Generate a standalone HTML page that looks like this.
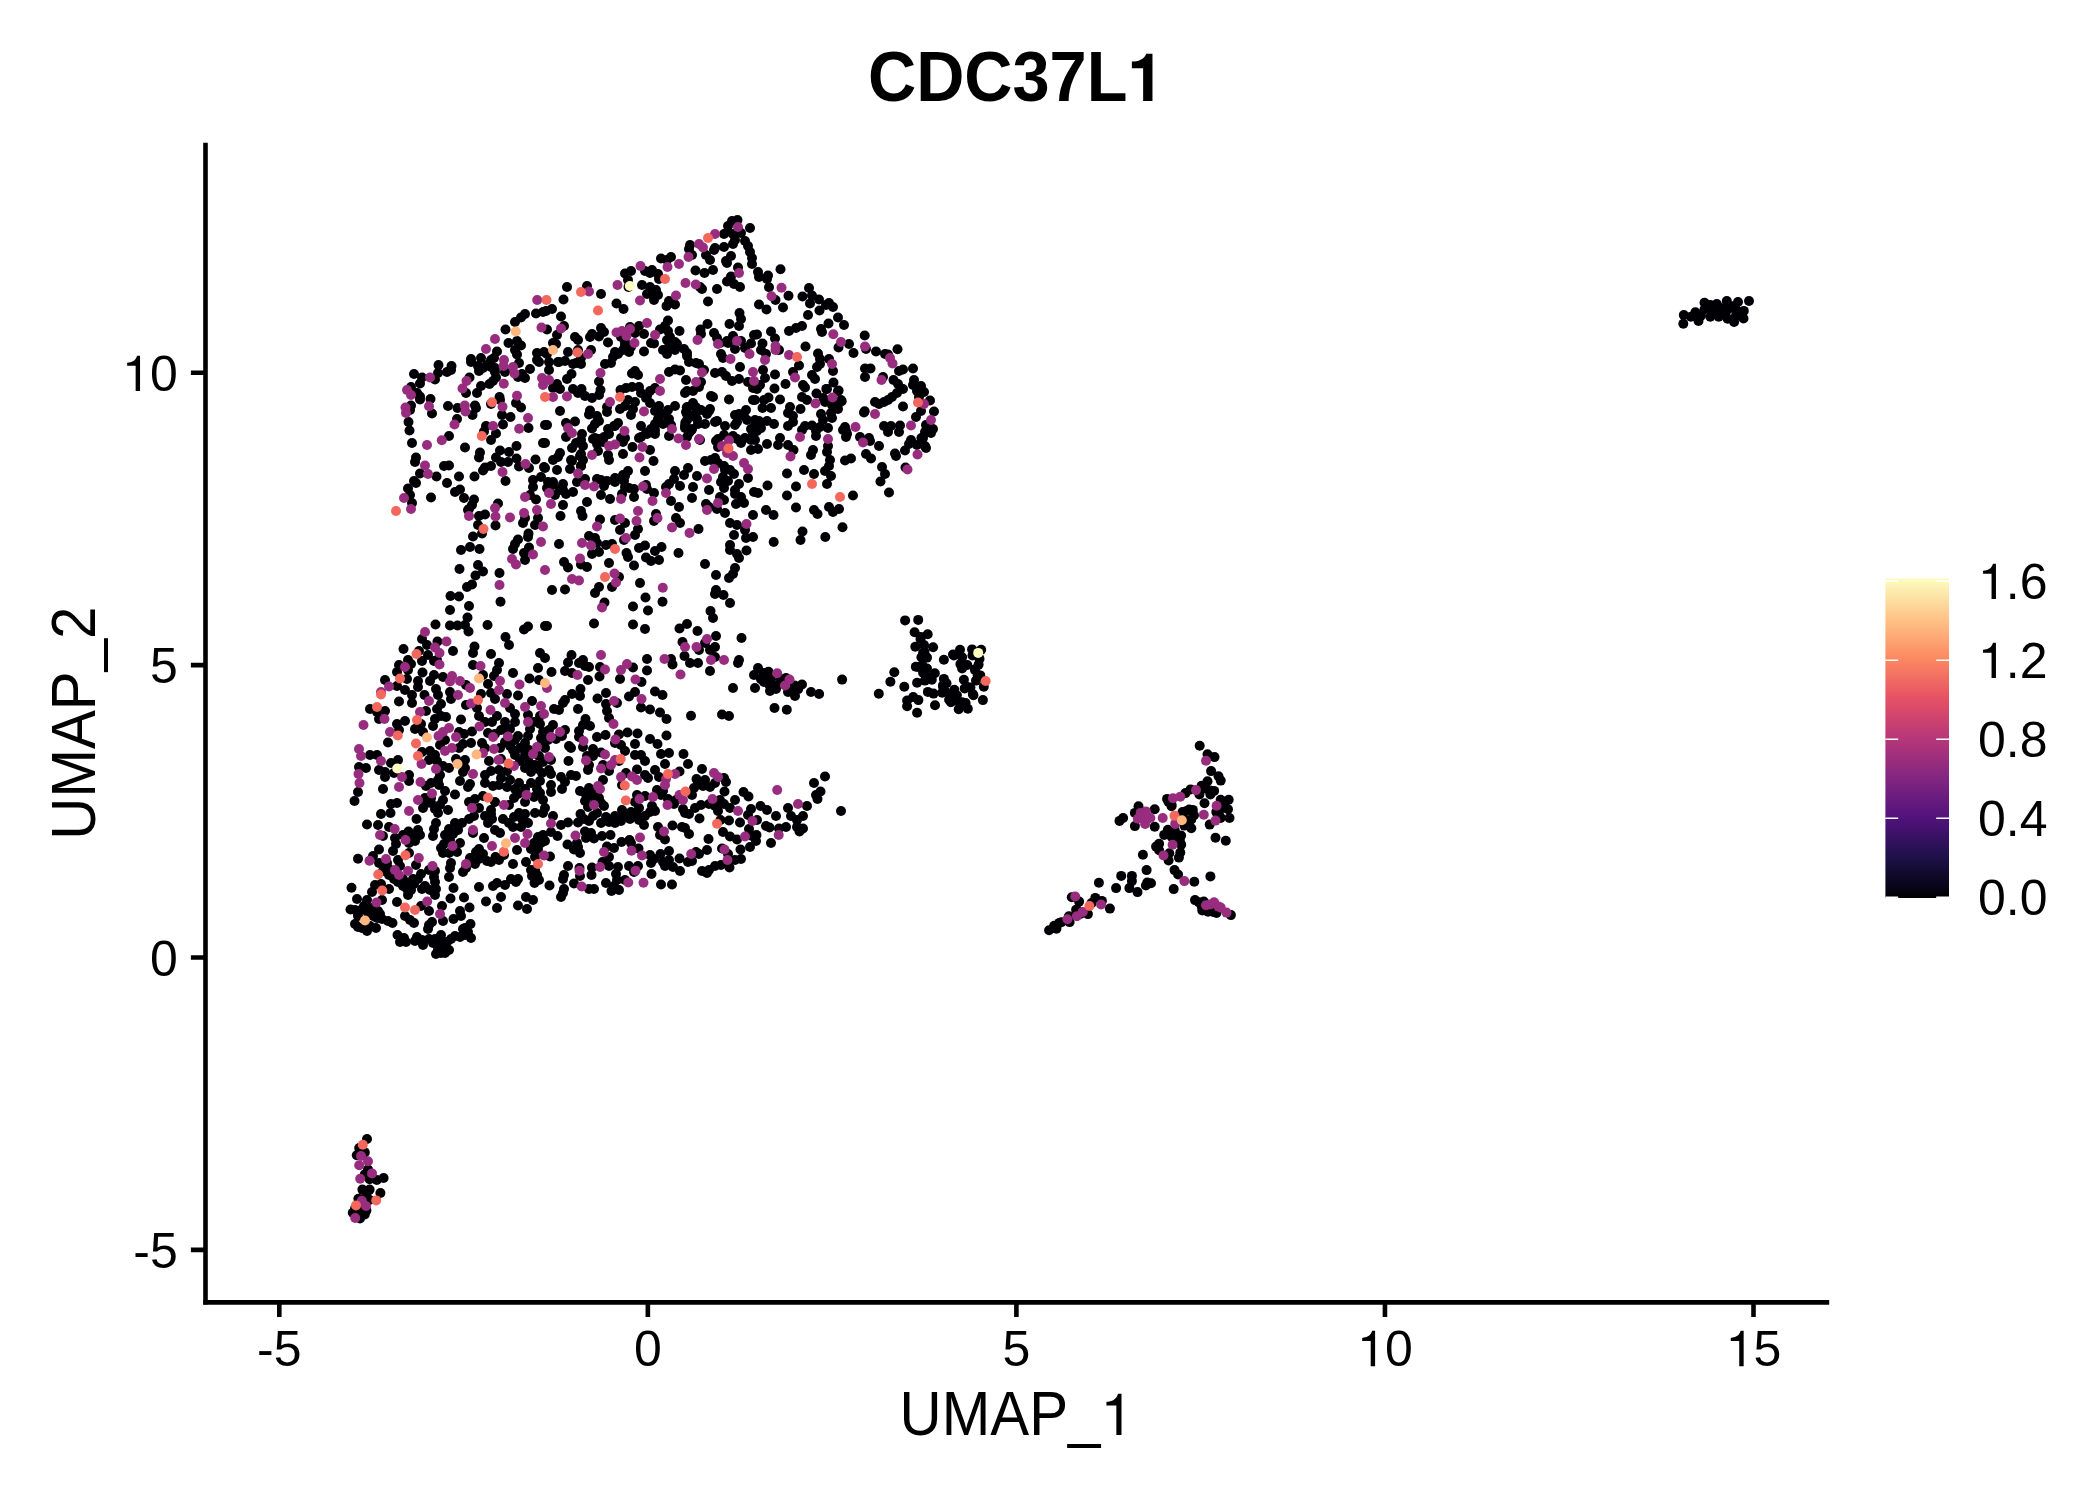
<!DOCTYPE html>
<html><head><meta charset="utf-8"><title>CDC37L1</title>
<style>
html,body{margin:0;padding:0;background:#fff;}
body{width:2100px;height:1500px;overflow:hidden;position:relative;font-family:"Liberation Sans",sans-serif;color:#000;}
svg{position:absolute;left:0;top:0;}
text{font-family:"Liberation Sans",sans-serif;fill:#000;}
.tk{font-size:50px;}
.ax{font-size:58.3px;}
.ttl{font-size:66.7px;font-weight:bold;}
</style></head><body>
<svg width="2100" height="1500" viewBox="0 0 2100 1500">
<defs>
<linearGradient id="mg" x1="0" y1="1" x2="0" y2="0">
<stop offset="0" stop-color="#000004"/>
<stop offset="0.125" stop-color="#1d1147"/>
<stop offset="0.25" stop-color="#51127c"/>
<stop offset="0.375" stop-color="#822681"/>
<stop offset="0.5" stop-color="#b73779"/>
<stop offset="0.625" stop-color="#e65164"/>
<stop offset="0.75" stop-color="#fc8961"/>
<stop offset="0.875" stop-color="#fec488"/>
<stop offset="1" stop-color="#fcfdbf"/>
</linearGradient>
</defs>
<rect width="2100" height="1500" fill="#fff"/>
<!-- points -->
<g id="pts">
<g fill="#000004">
<circle cx="1749.0" cy="301.0" r="5"/>
<circle cx="1738.0" cy="302.0" r="5"/>
<circle cx="1726.8" cy="301.0" r="5"/>
<circle cx="1716.8" cy="304.1" r="5"/>
<circle cx="1704.5" cy="302.8" r="5"/>
<circle cx="1695.4" cy="312.2" r="5"/>
<circle cx="1683.8" cy="315.1" r="5"/>
<circle cx="1683.3" cy="323.7" r="5"/>
<circle cx="1690.9" cy="316.7" r="5"/>
<circle cx="1698.5" cy="320.9" r="5"/>
<circle cx="1710.3" cy="316.7" r="5"/>
<circle cx="1718.7" cy="316.7" r="5"/>
<circle cx="1727.6" cy="318.8" r="5"/>
<circle cx="1734.1" cy="321.9" r="5"/>
<circle cx="1743.5" cy="318.5" r="5"/>
<circle cx="1743.8" cy="310.9" r="5"/>
<circle cx="1704.5" cy="309.3" r="5"/>
<circle cx="1712.4" cy="310.4" r="5"/>
<circle cx="1720.2" cy="309.3" r="5"/>
<circle cx="1728.1" cy="309.3" r="5"/>
<circle cx="1736.0" cy="309.3" r="5"/>
<circle cx="1736.0" cy="315.6" r="5"/>
<circle cx="1700.9" cy="315.6" r="5"/>
<circle cx="1725.5" cy="313.5" r="5"/>
<circle cx="1717.6" cy="306.2" r="5"/>
<circle cx="1710.3" cy="305.1" r="5"/>
<circle cx="1732.3" cy="306.2" r="5"/>
<circle cx="1739.6" cy="313.5" r="5"/>
<circle cx="1725.5" cy="307.2" r="5"/>
<circle cx="367.0" cy="1139.0" r="5"/>
<circle cx="359.2" cy="1148.0" r="5"/>
<circle cx="364.8" cy="1152.4" r="5"/>
<circle cx="356.8" cy="1155.2" r="5"/>
<circle cx="368.0" cy="1169.6" r="5"/>
<circle cx="364.8" cy="1174.4" r="5"/>
<circle cx="369.6" cy="1179.2" r="5"/>
<circle cx="376.8" cy="1180.0" r="5"/>
<circle cx="383.6" cy="1178.0" r="5"/>
<circle cx="362.4" cy="1189.6" r="5"/>
<circle cx="369.6" cy="1189.6" r="5"/>
<circle cx="366.4" cy="1194.4" r="5"/>
<circle cx="380.4" cy="1193.0" r="5"/>
<circle cx="358.4" cy="1198.8" r="5"/>
<circle cx="369.6" cy="1200.0" r="5"/>
<circle cx="352.8" cy="1212.8" r="5"/>
<circle cx="364.8" cy="1214.4" r="5"/>
<circle cx="360.0" cy="1218.4" r="5"/>
<circle cx="366.4" cy="1210.4" r="5"/>
<circle cx="355.2" cy="1208.0" r="5"/>
<circle cx="842.1" cy="679.6" r="5"/>
<circle cx="819.1" cy="694.0" r="5"/>
<circle cx="878.8" cy="693.8" r="5"/>
<circle cx="890.4" cy="681.7" r="5"/>
<circle cx="894.3" cy="672.2" r="5"/>
<circle cx="904.3" cy="686.7" r="5"/>
<circle cx="905.1" cy="620.4" r="5"/>
<circle cx="918.2" cy="619.9" r="5"/>
<circle cx="914.6" cy="632.2" r="5"/>
<circle cx="927.7" cy="634.2" r="5"/>
<circle cx="920.5" cy="639.0" r="5"/>
<circle cx="915.3" cy="646.8" r="5"/>
<circle cx="924.0" cy="645.1" r="5"/>
<circle cx="933.1" cy="647.2" r="5"/>
<circle cx="923.1" cy="652.9" r="5"/>
<circle cx="927.0" cy="657.6" r="5"/>
<circle cx="921.4" cy="657.2" r="5"/>
<circle cx="915.8" cy="666.7" r="5"/>
<circle cx="922.3" cy="665.0" r="5"/>
<circle cx="927.0" cy="668.5" r="5"/>
<circle cx="923.1" cy="672.8" r="5"/>
<circle cx="934.8" cy="673.2" r="5"/>
<circle cx="931.8" cy="679.7" r="5"/>
<circle cx="924.9" cy="680.6" r="5"/>
<circle cx="917.1" cy="682.8" r="5"/>
<circle cx="943.9" cy="659.8" r="5"/>
<circle cx="943.9" cy="678.9" r="5"/>
<circle cx="946.5" cy="683.2" r="5"/>
<circle cx="943.1" cy="686.7" r="5"/>
<circle cx="942.2" cy="692.7" r="5"/>
<circle cx="927.9" cy="691.9" r="5"/>
<circle cx="933.5" cy="693.6" r="5"/>
<circle cx="913.2" cy="697.1" r="5"/>
<circle cx="918.4" cy="700.1" r="5"/>
<circle cx="907.1" cy="700.5" r="5"/>
<circle cx="907.1" cy="706.2" r="5"/>
<circle cx="917.1" cy="712.7" r="5"/>
<circle cx="935.0" cy="705.3" r="5"/>
<circle cx="953.9" cy="655.5" r="5"/>
<circle cx="960.0" cy="649.8" r="5"/>
<circle cx="962.1" cy="657.2" r="5"/>
<circle cx="960.4" cy="664.1" r="5"/>
<circle cx="962.1" cy="668.5" r="5"/>
<circle cx="967.3" cy="665.0" r="5"/>
<circle cx="972.1" cy="649.4" r="5"/>
<circle cx="981.2" cy="649.8" r="5"/>
<circle cx="972.5" cy="655.5" r="5"/>
<circle cx="979.5" cy="658.9" r="5"/>
<circle cx="978.6" cy="664.6" r="5"/>
<circle cx="975.1" cy="670.2" r="5"/>
<circle cx="980.3" cy="675.4" r="5"/>
<circle cx="976.0" cy="680.6" r="5"/>
<circle cx="963.9" cy="679.7" r="5"/>
<circle cx="964.7" cy="688.4" r="5"/>
<circle cx="970.4" cy="687.5" r="5"/>
<circle cx="983.8" cy="686.7" r="5"/>
<circle cx="954.3" cy="689.7" r="5"/>
<circle cx="951.7" cy="695.3" r="5"/>
<circle cx="949.1" cy="699.7" r="5"/>
<circle cx="955.2" cy="700.5" r="5"/>
<circle cx="962.1" cy="702.3" r="5"/>
<circle cx="973.4" cy="695.3" r="5"/>
<circle cx="982.9" cy="700.1" r="5"/>
<circle cx="950.9" cy="702.3" r="5"/>
<circle cx="958.7" cy="709.2" r="5"/>
<circle cx="967.8" cy="708.8" r="5"/>
<circle cx="965.6" cy="703.1" r="5"/>
<circle cx="956.9" cy="695.3" r="5"/>
<circle cx="1199.7" cy="745.7" r="5"/>
<circle cx="1207.5" cy="754.2" r="5"/>
<circle cx="1214.5" cy="757.1" r="5"/>
<circle cx="1211.1" cy="771.1" r="5"/>
<circle cx="1218.5" cy="776.2" r="5"/>
<circle cx="1220.7" cy="780.6" r="5"/>
<circle cx="1207.5" cy="781.3" r="5"/>
<circle cx="1201.6" cy="785.7" r="5"/>
<circle cx="1190.6" cy="789.4" r="5"/>
<circle cx="1185.5" cy="793.1" r="5"/>
<circle cx="1206.0" cy="788.7" r="5"/>
<circle cx="1214.1" cy="790.9" r="5"/>
<circle cx="1199.4" cy="794.5" r="5"/>
<circle cx="1210.4" cy="794.5" r="5"/>
<circle cx="1220.7" cy="799.7" r="5"/>
<circle cx="1228.7" cy="799.7" r="5"/>
<circle cx="1204.5" cy="803.3" r="5"/>
<circle cx="1228.0" cy="809.2" r="5"/>
<circle cx="1229.5" cy="818.0" r="5"/>
<circle cx="1220.7" cy="818.0" r="5"/>
<circle cx="1216.3" cy="812.1" r="5"/>
<circle cx="1209.7" cy="824.6" r="5"/>
<circle cx="1215.5" cy="837.8" r="5"/>
<circle cx="1225.8" cy="840.7" r="5"/>
<circle cx="1167.1" cy="798.9" r="5"/>
<circle cx="1171.5" cy="806.3" r="5"/>
<circle cx="1182.5" cy="812.1" r="5"/>
<circle cx="1192.8" cy="809.9" r="5"/>
<circle cx="1191.3" cy="819.5" r="5"/>
<circle cx="1185.5" cy="823.9" r="5"/>
<circle cx="1191.3" cy="828.3" r="5"/>
<circle cx="1182.5" cy="818.0" r="5"/>
<circle cx="1138.5" cy="806.3" r="5"/>
<circle cx="1134.9" cy="812.9" r="5"/>
<circle cx="1154.7" cy="809.2" r="5"/>
<circle cx="1154.7" cy="826.8" r="5"/>
<circle cx="1134.9" cy="826.1" r="5"/>
<circle cx="1123.1" cy="818.0" r="5"/>
<circle cx="1119.5" cy="820.9" r="5"/>
<circle cx="1167.9" cy="829.7" r="5"/>
<circle cx="1164.2" cy="834.9" r="5"/>
<circle cx="1172.3" cy="834.9" r="5"/>
<circle cx="1181.1" cy="835.6" r="5"/>
<circle cx="1180.3" cy="842.9" r="5"/>
<circle cx="1159.1" cy="843.7" r="5"/>
<circle cx="1156.1" cy="846.6" r="5"/>
<circle cx="1159.1" cy="850.3" r="5"/>
<circle cx="1180.3" cy="852.5" r="5"/>
<circle cx="1169.3" cy="853.2" r="5"/>
<circle cx="1178.9" cy="857.6" r="5"/>
<circle cx="1168.6" cy="860.5" r="5"/>
<circle cx="1142.9" cy="854.7" r="5"/>
<circle cx="1146.6" cy="870.1" r="5"/>
<circle cx="1174.5" cy="870.1" r="5"/>
<circle cx="1178.1" cy="874.5" r="5"/>
<circle cx="1194.3" cy="881.8" r="5"/>
<circle cx="1210.4" cy="876.4" r="5"/>
<circle cx="1173.7" cy="889.1" r="5"/>
<circle cx="1121.2" cy="875.9" r="5"/>
<circle cx="1131.9" cy="875.9" r="5"/>
<circle cx="1131.9" cy="881.1" r="5"/>
<circle cx="1098.9" cy="882.8" r="5"/>
<circle cx="1116.1" cy="888.1" r="5"/>
<circle cx="1129.4" cy="888.1" r="5"/>
<circle cx="1137.5" cy="892.1" r="5"/>
<circle cx="1147.3" cy="882.5" r="5"/>
<circle cx="1151.0" cy="883.3" r="5"/>
<circle cx="1145.9" cy="885.5" r="5"/>
<circle cx="1071.8" cy="897.2" r="5"/>
<circle cx="1079.1" cy="901.6" r="5"/>
<circle cx="1095.3" cy="897.9" r="5"/>
<circle cx="1101.9" cy="900.9" r="5"/>
<circle cx="1109.9" cy="908.6" r="5"/>
<circle cx="1076.9" cy="909.7" r="5"/>
<circle cx="1087.9" cy="914.1" r="5"/>
<circle cx="1068.9" cy="916.3" r="5"/>
<circle cx="1059.3" cy="922.9" r="5"/>
<circle cx="1054.2" cy="925.8" r="5"/>
<circle cx="1049.1" cy="930.2" r="5"/>
<circle cx="1056.4" cy="928.7" r="5"/>
<circle cx="1069.6" cy="922.1" r="5"/>
<circle cx="1091.6" cy="903.1" r="5"/>
<circle cx="1195.0" cy="900.1" r="5"/>
<circle cx="1198.7" cy="902.3" r="5"/>
<circle cx="1203.8" cy="901.6" r="5"/>
<circle cx="1202.3" cy="910.4" r="5"/>
<circle cx="1213.3" cy="911.9" r="5"/>
<circle cx="1230.9" cy="915.1" r="5"/>
<circle cx="1214.8" cy="910.4" r="5"/>
<circle cx="732.0" cy="221.0" r="5"/>
<circle cx="737.5" cy="220.0" r="5"/>
<circle cx="728.0" cy="226.0" r="5"/>
<circle cx="728.0" cy="231.5" r="5"/>
<circle cx="750.0" cy="228.0" r="5"/>
<circle cx="733.0" cy="234.0" r="5"/>
<circle cx="741.0" cy="233.0" r="5"/>
<circle cx="724.0" cy="234.0" r="5"/>
<circle cx="735.0" cy="240.0" r="5"/>
<circle cx="733.0" cy="244.0" r="5"/>
<circle cx="745.0" cy="241.0" r="5"/>
<circle cx="748.0" cy="246.0" r="5"/>
<circle cx="750.0" cy="252.0" r="5"/>
<circle cx="752.0" cy="258.0" r="5"/>
<circle cx="752.0" cy="264.0" r="5"/>
<circle cx="724.0" cy="247.0" r="5"/>
<circle cx="715.0" cy="248.0" r="5"/>
<circle cx="714.0" cy="250.0" r="5"/>
<circle cx="690.0" cy="245.0" r="5"/>
<circle cx="689.0" cy="249.0" r="5"/>
<circle cx="731.0" cy="256.0" r="5"/>
<circle cx="726.0" cy="261.0" r="5"/>
<circle cx="727.0" cy="263.0" r="5"/>
<circle cx="706.0" cy="255.0" r="5"/>
<circle cx="710.0" cy="260.0" r="5"/>
<circle cx="692.0" cy="255.0" r="5"/>
<circle cx="661.0" cy="258.5" r="5"/>
<circle cx="671.0" cy="257.0" r="5"/>
<circle cx="667.0" cy="260.0" r="5"/>
<circle cx="695.5" cy="270.5" r="5"/>
<circle cx="704.5" cy="273.0" r="5"/>
<circle cx="713.0" cy="270.0" r="5"/>
<circle cx="738.0" cy="267.5" r="5"/>
<circle cx="731.0" cy="276.5" r="5"/>
<circle cx="727.0" cy="281.5" r="5"/>
<circle cx="734.0" cy="284.0" r="5"/>
<circle cx="740.0" cy="287.0" r="5"/>
<circle cx="717.0" cy="289.0" r="5"/>
<circle cx="702.0" cy="289.0" r="5"/>
<circle cx="700.0" cy="287.0" r="5"/>
<circle cx="625.0" cy="273.5" r="5"/>
<circle cx="631.0" cy="271.0" r="5"/>
<circle cx="628.0" cy="280.0" r="5"/>
<circle cx="628.5" cy="287.0" r="5"/>
<circle cx="645.0" cy="271.0" r="5"/>
<circle cx="652.0" cy="270.0" r="5"/>
<circle cx="650.0" cy="273.0" r="5"/>
<circle cx="658.0" cy="274.0" r="5"/>
<circle cx="659.0" cy="279.0" r="5"/>
<circle cx="642.0" cy="285.0" r="5"/>
<circle cx="650.0" cy="287.0" r="5"/>
<circle cx="656.0" cy="290.0" r="5"/>
<circle cx="647.0" cy="294.0" r="5"/>
<circle cx="654.0" cy="297.0" r="5"/>
<circle cx="658.0" cy="295.0" r="5"/>
<circle cx="654.0" cy="300.0" r="5"/>
<circle cx="651.0" cy="292.0" r="5"/>
<circle cx="669.0" cy="301.0" r="5"/>
<circle cx="666.5" cy="306.0" r="5"/>
<circle cx="675.0" cy="304.5" r="5"/>
<circle cx="708.0" cy="301.5" r="5"/>
<circle cx="616.5" cy="303.5" r="5"/>
<circle cx="623.5" cy="309.0" r="5"/>
<circle cx="567.0" cy="287.0" r="5"/>
<circle cx="587.0" cy="286.0" r="5"/>
<circle cx="601.0" cy="294.0" r="5"/>
<circle cx="563.5" cy="299.5" r="5"/>
<circle cx="552.0" cy="309.0" r="5"/>
<circle cx="546.0" cy="311.0" r="5"/>
<circle cx="561.0" cy="316.5" r="5"/>
<circle cx="739.5" cy="313.0" r="5"/>
<circle cx="741.0" cy="319.0" r="5"/>
<circle cx="739.0" cy="326.0" r="5"/>
<circle cx="729.5" cy="324.0" r="5"/>
<circle cx="668.0" cy="320.5" r="5"/>
<circle cx="665.0" cy="326.0" r="5"/>
<circle cx="660.0" cy="329.5" r="5"/>
<circle cx="668.0" cy="331.0" r="5"/>
<circle cx="679.5" cy="331.0" r="5"/>
<circle cx="670.0" cy="337.0" r="5"/>
<circle cx="667.0" cy="340.0" r="5"/>
<circle cx="654.0" cy="343.5" r="5"/>
<circle cx="651.0" cy="343.0" r="5"/>
<circle cx="677.0" cy="344.0" r="5"/>
<circle cx="668.0" cy="348.0" r="5"/>
<circle cx="667.0" cy="354.0" r="5"/>
<circle cx="684.0" cy="349.0" r="5"/>
<circle cx="687.0" cy="353.0" r="5"/>
<circle cx="675.0" cy="350.0" r="5"/>
<circle cx="707.5" cy="324.0" r="5"/>
<circle cx="700.5" cy="329.5" r="5"/>
<circle cx="701.0" cy="334.0" r="5"/>
<circle cx="714.0" cy="333.0" r="5"/>
<circle cx="717.0" cy="338.0" r="5"/>
<circle cx="720.0" cy="343.0" r="5"/>
<circle cx="733.0" cy="336.0" r="5"/>
<circle cx="727.0" cy="341.0" r="5"/>
<circle cx="741.0" cy="341.0" r="5"/>
<circle cx="735.0" cy="349.0" r="5"/>
<circle cx="751.0" cy="343.5" r="5"/>
<circle cx="754.0" cy="335.0" r="5"/>
<circle cx="721.0" cy="354.0" r="5"/>
<circle cx="728.0" cy="343.0" r="5"/>
<circle cx="723.0" cy="358.0" r="5"/>
<circle cx="601.0" cy="328.0" r="5"/>
<circle cx="604.0" cy="332.0" r="5"/>
<circle cx="592.0" cy="334.0" r="5"/>
<circle cx="590.0" cy="337.0" r="5"/>
<circle cx="599.0" cy="336.5" r="5"/>
<circle cx="608.0" cy="342.5" r="5"/>
<circle cx="630.0" cy="327.0" r="5"/>
<circle cx="639.0" cy="326.0" r="5"/>
<circle cx="635.0" cy="333.0" r="5"/>
<circle cx="644.0" cy="334.0" r="5"/>
<circle cx="621.0" cy="337.0" r="5"/>
<circle cx="625.0" cy="345.0" r="5"/>
<circle cx="623.0" cy="350.0" r="5"/>
<circle cx="629.0" cy="352.0" r="5"/>
<circle cx="618.0" cy="354.0" r="5"/>
<circle cx="613.0" cy="357.0" r="5"/>
<circle cx="644.0" cy="351.5" r="5"/>
<circle cx="631.0" cy="347.0" r="5"/>
<circle cx="575.0" cy="337.0" r="5"/>
<circle cx="578.0" cy="340.0" r="5"/>
<circle cx="564.0" cy="326.0" r="5"/>
<circle cx="557.0" cy="335.0" r="5"/>
<circle cx="556.0" cy="344.0" r="5"/>
<circle cx="547.0" cy="329.5" r="5"/>
<circle cx="568.0" cy="352.0" r="5"/>
<circle cx="578.0" cy="350.0" r="5"/>
<circle cx="591.0" cy="350.0" r="5"/>
<circle cx="553.0" cy="343.0" r="5"/>
<circle cx="758.0" cy="272.0" r="5"/>
<circle cx="759.0" cy="277.0" r="5"/>
<circle cx="768.0" cy="275.5" r="5"/>
<circle cx="767.0" cy="279.0" r="5"/>
<circle cx="780.5" cy="269.2" r="5"/>
<circle cx="769.0" cy="287.3" r="5"/>
<circle cx="788.5" cy="295.8" r="5"/>
<circle cx="775.5" cy="300.0" r="5"/>
<circle cx="759.0" cy="304.5" r="5"/>
<circle cx="766.5" cy="309.5" r="5"/>
<circle cx="783.0" cy="307.5" r="5"/>
<circle cx="809.0" cy="288.0" r="5"/>
<circle cx="802.5" cy="296.5" r="5"/>
<circle cx="812.0" cy="295.5" r="5"/>
<circle cx="819.0" cy="299.5" r="5"/>
<circle cx="810.0" cy="303.5" r="5"/>
<circle cx="829.0" cy="303.0" r="5"/>
<circle cx="833.0" cy="307.0" r="5"/>
<circle cx="819.5" cy="310.5" r="5"/>
<circle cx="808.0" cy="315.0" r="5"/>
<circle cx="826.0" cy="305.0" r="5"/>
<circle cx="838.0" cy="317.5" r="5"/>
<circle cx="828.5" cy="323.5" r="5"/>
<circle cx="844.0" cy="325.0" r="5"/>
<circle cx="821.0" cy="329.0" r="5"/>
<circle cx="822.0" cy="332.0" r="5"/>
<circle cx="802.0" cy="326.0" r="5"/>
<circle cx="796.0" cy="328.0" r="5"/>
<circle cx="789.0" cy="331.0" r="5"/>
<circle cx="771.0" cy="331.5" r="5"/>
<circle cx="757.0" cy="334.5" r="5"/>
<circle cx="775.0" cy="338.5" r="5"/>
<circle cx="762.5" cy="343.5" r="5"/>
<circle cx="761.0" cy="350.0" r="5"/>
<circle cx="766.0" cy="354.0" r="5"/>
<circle cx="779.0" cy="350.0" r="5"/>
<circle cx="805.5" cy="346.5" r="5"/>
<circle cx="818.0" cy="353.5" r="5"/>
<circle cx="829.0" cy="359.0" r="5"/>
<circle cx="820.0" cy="359.0" r="5"/>
<circle cx="864.7" cy="335.5" r="5"/>
<circle cx="849.0" cy="344.0" r="5"/>
<circle cx="838.5" cy="347.5" r="5"/>
<circle cx="853.5" cy="353.0" r="5"/>
<circle cx="866.0" cy="349.0" r="5"/>
<circle cx="876.0" cy="351.5" r="5"/>
<circle cx="885.0" cy="354.0" r="5"/>
<circle cx="888.0" cy="354.5" r="5"/>
<circle cx="897.5" cy="349.3" r="5"/>
<circle cx="525.0" cy="314.0" r="5"/>
<circle cx="521.0" cy="317.5" r="5"/>
<circle cx="515.0" cy="322.0" r="5"/>
<circle cx="505.5" cy="329.5" r="5"/>
<circle cx="536.0" cy="313.5" r="5"/>
<circle cx="543.0" cy="312.0" r="5"/>
<circle cx="508.5" cy="343.0" r="5"/>
<circle cx="517.0" cy="341.0" r="5"/>
<circle cx="521.0" cy="345.5" r="5"/>
<circle cx="515.0" cy="350.0" r="5"/>
<circle cx="517.0" cy="354.5" r="5"/>
<circle cx="497.0" cy="351.5" r="5"/>
<circle cx="494.0" cy="358.0" r="5"/>
<circle cx="481.0" cy="358.0" r="5"/>
<circle cx="471.0" cy="359.0" r="5"/>
<circle cx="537.0" cy="353.0" r="5"/>
<circle cx="544.0" cy="352.0" r="5"/>
<circle cx="438.5" cy="365.0" r="5"/>
<circle cx="451.5" cy="366.0" r="5"/>
<circle cx="451.0" cy="370.0" r="5"/>
<circle cx="447.0" cy="372.0" r="5"/>
<circle cx="438.0" cy="373.0" r="5"/>
<circle cx="414.0" cy="374.0" r="5"/>
<circle cx="422.0" cy="377.5" r="5"/>
<circle cx="435.0" cy="379.5" r="5"/>
<circle cx="420.0" cy="383.5" r="5"/>
<circle cx="411.0" cy="387.0" r="5"/>
<circle cx="417.0" cy="393.0" r="5"/>
<circle cx="420.0" cy="396.5" r="5"/>
<circle cx="420.0" cy="399.5" r="5"/>
<circle cx="430.5" cy="399.0" r="5"/>
<circle cx="411.0" cy="405.5" r="5"/>
<circle cx="410.0" cy="410.0" r="5"/>
<circle cx="432.0" cy="413.5" r="5"/>
<circle cx="408.5" cy="422.0" r="5"/>
<circle cx="409.5" cy="430.5" r="5"/>
<circle cx="412.0" cy="443.0" r="5"/>
<circle cx="448.0" cy="406.0" r="5"/>
<circle cx="457.5" cy="408.0" r="5"/>
<circle cx="475.0" cy="405.5" r="5"/>
<circle cx="476.0" cy="408.0" r="5"/>
<circle cx="472.5" cy="415.0" r="5"/>
<circle cx="457.0" cy="419.0" r="5"/>
<circle cx="449.0" cy="436.0" r="5"/>
<circle cx="469.5" cy="377.5" r="5"/>
<circle cx="466.0" cy="393.0" r="5"/>
<circle cx="477.0" cy="393.0" r="5"/>
<circle cx="481.0" cy="386.0" r="5"/>
<circle cx="489.5" cy="384.0" r="5"/>
<circle cx="493.0" cy="381.0" r="5"/>
<circle cx="496.0" cy="377.5" r="5"/>
<circle cx="471.0" cy="362.0" r="5"/>
<circle cx="478.0" cy="366.0" r="5"/>
<circle cx="479.0" cy="371.0" r="5"/>
<circle cx="487.0" cy="365.0" r="5"/>
<circle cx="491.0" cy="367.0" r="5"/>
<circle cx="495.0" cy="368.0" r="5"/>
<circle cx="519.0" cy="363.0" r="5"/>
<circle cx="505.0" cy="372.0" r="5"/>
<circle cx="522.0" cy="374.0" r="5"/>
<circle cx="525.0" cy="378.0" r="5"/>
<circle cx="518.0" cy="377.0" r="5"/>
<circle cx="530.0" cy="369.0" r="5"/>
<circle cx="539.0" cy="362.0" r="5"/>
<circle cx="499.5" cy="397.0" r="5"/>
<circle cx="500.0" cy="400.0" r="5"/>
<circle cx="491.0" cy="404.0" r="5"/>
<circle cx="516.0" cy="403.0" r="5"/>
<circle cx="521.0" cy="407.5" r="5"/>
<circle cx="502.0" cy="415.0" r="5"/>
<circle cx="510.5" cy="417.0" r="5"/>
<circle cx="503.0" cy="424.5" r="5"/>
<circle cx="486.0" cy="426.0" r="5"/>
<circle cx="484.0" cy="431.5" r="5"/>
<circle cx="496.0" cy="433.5" r="5"/>
<circle cx="491.0" cy="440.0" r="5"/>
<circle cx="528.5" cy="428.0" r="5"/>
<circle cx="465.0" cy="447.5" r="5"/>
<circle cx="480.0" cy="452.5" r="5"/>
<circle cx="479.0" cy="457.5" r="5"/>
<circle cx="500.0" cy="450.5" r="5"/>
<circle cx="509.0" cy="452.0" r="5"/>
<circle cx="516.5" cy="446.0" r="5"/>
<circle cx="496.0" cy="457.5" r="5"/>
<circle cx="501.0" cy="462.0" r="5"/>
<circle cx="508.0" cy="462.0" r="5"/>
<circle cx="516.5" cy="458.5" r="5"/>
<circle cx="519.0" cy="466.5" r="5"/>
<circle cx="535.5" cy="459.5" r="5"/>
<circle cx="529.0" cy="468.0" r="5"/>
<circle cx="491.0" cy="466.0" r="5"/>
<circle cx="485.0" cy="467.5" r="5"/>
<circle cx="483.0" cy="470.5" r="5"/>
<circle cx="474.5" cy="476.5" r="5"/>
<circle cx="459.0" cy="476.5" r="5"/>
<circle cx="505.5" cy="481.0" r="5"/>
<circle cx="416.0" cy="457.5" r="5"/>
<circle cx="415.0" cy="462.0" r="5"/>
<circle cx="444.0" cy="466.0" r="5"/>
<circle cx="449.0" cy="465.5" r="5"/>
<circle cx="420.0" cy="473.5" r="5"/>
<circle cx="436.5" cy="476.5" r="5"/>
<circle cx="447.0" cy="483.0" r="5"/>
<circle cx="414.0" cy="481.0" r="5"/>
<circle cx="416.0" cy="483.0" r="5"/>
<circle cx="408.0" cy="488.5" r="5"/>
<circle cx="410.0" cy="495.0" r="5"/>
<circle cx="412.0" cy="503.0" r="5"/>
<circle cx="431.0" cy="497.5" r="5"/>
<circle cx="455.0" cy="492.0" r="5"/>
<circle cx="460.0" cy="489.5" r="5"/>
<circle cx="464.0" cy="498.0" r="5"/>
<circle cx="474.0" cy="499.5" r="5"/>
<circle cx="472.0" cy="505.0" r="5"/>
<circle cx="469.0" cy="509.0" r="5"/>
<circle cx="498.0" cy="503.5" r="5"/>
<circle cx="545.0" cy="425.0" r="5"/>
<circle cx="543.0" cy="443.0" r="5"/>
<circle cx="544.0" cy="467.0" r="5"/>
<circle cx="541.0" cy="477.0" r="5"/>
<circle cx="533.0" cy="480.0" r="5"/>
<circle cx="533.0" cy="487.0" r="5"/>
<circle cx="530.0" cy="495.0" r="5"/>
<circle cx="536.0" cy="499.5" r="5"/>
<circle cx="549.0" cy="362.0" r="5"/>
<circle cx="558.0" cy="362.0" r="5"/>
<circle cx="565.0" cy="361.0" r="5"/>
<circle cx="576.0" cy="363.0" r="5"/>
<circle cx="581.0" cy="364.0" r="5"/>
<circle cx="549.0" cy="370.0" r="5"/>
<circle cx="571.5" cy="374.0" r="5"/>
<circle cx="567.0" cy="379.0" r="5"/>
<circle cx="557.0" cy="384.0" r="5"/>
<circle cx="553.0" cy="388.0" r="5"/>
<circle cx="560.0" cy="389.0" r="5"/>
<circle cx="573.0" cy="389.0" r="5"/>
<circle cx="578.0" cy="393.0" r="5"/>
<circle cx="581.5" cy="389.0" r="5"/>
<circle cx="585.0" cy="396.0" r="5"/>
<circle cx="592.0" cy="398.0" r="5"/>
<circle cx="599.0" cy="395.0" r="5"/>
<circle cx="600.5" cy="390.0" r="5"/>
<circle cx="599.0" cy="381.5" r="5"/>
<circle cx="605.0" cy="364.0" r="5"/>
<circle cx="611.0" cy="363.0" r="5"/>
<circle cx="560.0" cy="411.0" r="5"/>
<circle cx="547.0" cy="425.0" r="5"/>
<circle cx="545.0" cy="443.0" r="5"/>
<circle cx="635.0" cy="371.0" r="5"/>
<circle cx="632.0" cy="373.5" r="5"/>
<circle cx="638.0" cy="375.0" r="5"/>
<circle cx="669.0" cy="372.0" r="5"/>
<circle cx="675.0" cy="369.5" r="5"/>
<circle cx="680.0" cy="370.5" r="5"/>
<circle cx="620.5" cy="390.0" r="5"/>
<circle cx="626.0" cy="388.0" r="5"/>
<circle cx="632.0" cy="387.0" r="5"/>
<circle cx="639.0" cy="387.0" r="5"/>
<circle cx="641.0" cy="393.0" r="5"/>
<circle cx="646.0" cy="398.0" r="5"/>
<circle cx="650.0" cy="391.0" r="5"/>
<circle cx="655.0" cy="388.0" r="5"/>
<circle cx="650.0" cy="403.0" r="5"/>
<circle cx="658.0" cy="407.0" r="5"/>
<circle cx="655.0" cy="411.0" r="5"/>
<circle cx="668.0" cy="410.0" r="5"/>
<circle cx="663.0" cy="414.0" r="5"/>
<circle cx="658.0" cy="419.0" r="5"/>
<circle cx="655.0" cy="424.0" r="5"/>
<circle cx="651.0" cy="429.0" r="5"/>
<circle cx="646.0" cy="433.0" r="5"/>
<circle cx="641.0" cy="437.0" r="5"/>
<circle cx="655.0" cy="434.0" r="5"/>
<circle cx="669.0" cy="419.0" r="5"/>
<circle cx="671.0" cy="425.0" r="5"/>
<circle cx="641.0" cy="426.0" r="5"/>
<circle cx="669.0" cy="436.0" r="5"/>
<circle cx="628.0" cy="400.0" r="5"/>
<circle cx="620.0" cy="409.0" r="5"/>
<circle cx="633.0" cy="409.0" r="5"/>
<circle cx="631.0" cy="415.0" r="5"/>
<circle cx="607.0" cy="407.0" r="5"/>
<circle cx="607.0" cy="412.0" r="5"/>
<circle cx="590.0" cy="410.5" r="5"/>
<circle cx="589.0" cy="414.5" r="5"/>
<circle cx="597.0" cy="416.0" r="5"/>
<circle cx="599.0" cy="421.0" r="5"/>
<circle cx="595.0" cy="424.0" r="5"/>
<circle cx="592.0" cy="428.5" r="5"/>
<circle cx="618.0" cy="423.0" r="5"/>
<circle cx="614.0" cy="426.0" r="5"/>
<circle cx="608.0" cy="429.0" r="5"/>
<circle cx="609.0" cy="434.0" r="5"/>
<circle cx="604.0" cy="437.0" r="5"/>
<circle cx="599.0" cy="439.0" r="5"/>
<circle cx="593.0" cy="439.0" r="5"/>
<circle cx="597.0" cy="444.0" r="5"/>
<circle cx="625.0" cy="438.0" r="5"/>
<circle cx="623.0" cy="442.0" r="5"/>
<circle cx="598.0" cy="451.0" r="5"/>
<circle cx="575.0" cy="421.5" r="5"/>
<circle cx="566.0" cy="423.0" r="5"/>
<circle cx="566.0" cy="437.0" r="5"/>
<circle cx="582.0" cy="434.0" r="5"/>
<circle cx="581.0" cy="440.0" r="5"/>
<circle cx="576.0" cy="443.0" r="5"/>
<circle cx="572.0" cy="448.0" r="5"/>
<circle cx="583.0" cy="446.0" r="5"/>
<circle cx="560.0" cy="453.0" r="5"/>
<circle cx="558.0" cy="457.0" r="5"/>
<circle cx="553.0" cy="460.0" r="5"/>
<circle cx="580.0" cy="456.0" r="5"/>
<circle cx="583.0" cy="460.0" r="5"/>
<circle cx="572.0" cy="461.0" r="5"/>
<circle cx="557.0" cy="470.0" r="5"/>
<circle cx="570.0" cy="469.0" r="5"/>
<circle cx="581.0" cy="466.0" r="5"/>
<circle cx="545.0" cy="468.0" r="5"/>
<circle cx="608.0" cy="455.0" r="5"/>
<circle cx="609.0" cy="460.0" r="5"/>
<circle cx="623.0" cy="454.0" r="5"/>
<circle cx="632.5" cy="447.0" r="5"/>
<circle cx="650.0" cy="450.0" r="5"/>
<circle cx="653.5" cy="461.0" r="5"/>
<circle cx="645.0" cy="471.0" r="5"/>
<circle cx="686.0" cy="380.0" r="5"/>
<circle cx="687.0" cy="391.0" r="5"/>
<circle cx="685.0" cy="393.0" r="5"/>
<circle cx="693.0" cy="391.0" r="5"/>
<circle cx="699.0" cy="387.0" r="5"/>
<circle cx="701.0" cy="382.0" r="5"/>
<circle cx="696.0" cy="363.0" r="5"/>
<circle cx="689.0" cy="362.0" r="5"/>
<circle cx="704.0" cy="370.0" r="5"/>
<circle cx="699.0" cy="364.0" r="5"/>
<circle cx="715.0" cy="373.0" r="5"/>
<circle cx="722.0" cy="372.0" r="5"/>
<circle cx="726.0" cy="376.0" r="5"/>
<circle cx="732.0" cy="381.0" r="5"/>
<circle cx="739.0" cy="379.0" r="5"/>
<circle cx="740.0" cy="367.0" r="5"/>
<circle cx="748.0" cy="382.0" r="5"/>
<circle cx="753.0" cy="388.0" r="5"/>
<circle cx="713.0" cy="397.0" r="5"/>
<circle cx="729.0" cy="399.5" r="5"/>
<circle cx="753.0" cy="400.0" r="5"/>
<circle cx="693.0" cy="403.0" r="5"/>
<circle cx="688.0" cy="407.0" r="5"/>
<circle cx="686.0" cy="412.0" r="5"/>
<circle cx="687.0" cy="420.0" r="5"/>
<circle cx="685.0" cy="428.0" r="5"/>
<circle cx="689.0" cy="433.0" r="5"/>
<circle cx="692.0" cy="429.0" r="5"/>
<circle cx="695.0" cy="414.0" r="5"/>
<circle cx="697.0" cy="419.0" r="5"/>
<circle cx="698.0" cy="424.0" r="5"/>
<circle cx="709.0" cy="411.0" r="5"/>
<circle cx="707.0" cy="414.0" r="5"/>
<circle cx="710.0" cy="409.0" r="5"/>
<circle cx="687.0" cy="437.0" r="5"/>
<circle cx="700.0" cy="440.0" r="5"/>
<circle cx="746.0" cy="410.0" r="5"/>
<circle cx="744.0" cy="416.0" r="5"/>
<circle cx="735.0" cy="415.0" r="5"/>
<circle cx="737.0" cy="422.0" r="5"/>
<circle cx="735.0" cy="425.0" r="5"/>
<circle cx="751.0" cy="429.0" r="5"/>
<circle cx="753.0" cy="434.0" r="5"/>
<circle cx="751.0" cy="440.0" r="5"/>
<circle cx="755.0" cy="420.0" r="5"/>
<circle cx="717.0" cy="421.0" r="5"/>
<circle cx="725.0" cy="426.0" r="5"/>
<circle cx="724.0" cy="435.0" r="5"/>
<circle cx="718.0" cy="439.0" r="5"/>
<circle cx="716.0" cy="441.0" r="5"/>
<circle cx="718.0" cy="447.0" r="5"/>
<circle cx="733.0" cy="436.0" r="5"/>
<circle cx="737.0" cy="439.0" r="5"/>
<circle cx="741.0" cy="443.0" r="5"/>
<circle cx="705.0" cy="461.0" r="5"/>
<circle cx="715.0" cy="458.0" r="5"/>
<circle cx="718.0" cy="463.0" r="5"/>
<circle cx="724.0" cy="466.0" r="5"/>
<circle cx="730.0" cy="470.0" r="5"/>
<circle cx="734.0" cy="474.0" r="5"/>
<circle cx="723.0" cy="477.0" r="5"/>
<circle cx="728.0" cy="481.0" r="5"/>
<circle cx="739.0" cy="484.0" r="5"/>
<circle cx="748.0" cy="478.0" r="5"/>
<circle cx="754.0" cy="492.0" r="5"/>
<circle cx="724.0" cy="488.0" r="5"/>
<circle cx="709.0" cy="490.0" r="5"/>
<circle cx="720.0" cy="497.0" r="5"/>
<circle cx="735.0" cy="494.0" r="5"/>
<circle cx="741.0" cy="497.0" r="5"/>
<circle cx="744.0" cy="503.0" r="5"/>
<circle cx="736.0" cy="504.0" r="5"/>
<circle cx="724.0" cy="500.0" r="5"/>
<circle cx="709.0" cy="507.0" r="5"/>
<circle cx="706.0" cy="504.0" r="5"/>
<circle cx="717.0" cy="509.0" r="5"/>
<circle cx="688.0" cy="468.0" r="5"/>
<circle cx="684.0" cy="475.0" r="5"/>
<circle cx="675.0" cy="471.0" r="5"/>
<circle cx="674.0" cy="479.0" r="5"/>
<circle cx="669.0" cy="484.0" r="5"/>
<circle cx="666.0" cy="487.0" r="5"/>
<circle cx="680.0" cy="486.0" r="5"/>
<circle cx="693.0" cy="487.0" r="5"/>
<circle cx="697.0" cy="476.0" r="5"/>
<circle cx="692.0" cy="498.0" r="5"/>
<circle cx="671.0" cy="501.0" r="5"/>
<circle cx="679.0" cy="507.0" r="5"/>
<circle cx="654.0" cy="493.0" r="5"/>
<circle cx="647.0" cy="489.0" r="5"/>
<circle cx="628.0" cy="471.0" r="5"/>
<circle cx="623.0" cy="475.0" r="5"/>
<circle cx="615.0" cy="478.0" r="5"/>
<circle cx="624.0" cy="481.0" r="5"/>
<circle cx="625.0" cy="487.0" r="5"/>
<circle cx="634.0" cy="489.0" r="5"/>
<circle cx="634.0" cy="497.0" r="5"/>
<circle cx="607.0" cy="481.0" r="5"/>
<circle cx="601.0" cy="480.0" r="5"/>
<circle cx="597.0" cy="479.0" r="5"/>
<circle cx="604.0" cy="486.0" r="5"/>
<circle cx="585.0" cy="479.0" r="5"/>
<circle cx="577.0" cy="482.0" r="5"/>
<circle cx="548.0" cy="482.0" r="5"/>
<circle cx="553.0" cy="485.0" r="5"/>
<circle cx="563.0" cy="484.0" r="5"/>
<circle cx="560.0" cy="490.0" r="5"/>
<circle cx="573.0" cy="492.0" r="5"/>
<circle cx="566.0" cy="494.0" r="5"/>
<circle cx="601.0" cy="495.0" r="5"/>
<circle cx="610.0" cy="499.0" r="5"/>
<circle cx="622.0" cy="494.0" r="5"/>
<circle cx="587.0" cy="502.0" r="5"/>
<circle cx="563.0" cy="505.0" r="5"/>
<circle cx="555.0" cy="495.0" r="5"/>
<circle cx="581.0" cy="511.0" r="5"/>
<circle cx="646.0" cy="485.0" r="5"/>
<circle cx="763.0" cy="370.0" r="5"/>
<circle cx="765.0" cy="378.0" r="5"/>
<circle cx="760.0" cy="385.0" r="5"/>
<circle cx="757.0" cy="389.0" r="5"/>
<circle cx="775.0" cy="374.5" r="5"/>
<circle cx="774.5" cy="388.5" r="5"/>
<circle cx="785.5" cy="384.0" r="5"/>
<circle cx="793.0" cy="372.0" r="5"/>
<circle cx="799.0" cy="365.5" r="5"/>
<circle cx="803.0" cy="385.0" r="5"/>
<circle cx="805.0" cy="387.5" r="5"/>
<circle cx="812.0" cy="375.0" r="5"/>
<circle cx="815.0" cy="379.0" r="5"/>
<circle cx="817.0" cy="367.0" r="5"/>
<circle cx="820.0" cy="364.0" r="5"/>
<circle cx="833.0" cy="371.0" r="5"/>
<circle cx="833.5" cy="382.5" r="5"/>
<circle cx="827.0" cy="389.0" r="5"/>
<circle cx="838.0" cy="391.0" r="5"/>
<circle cx="841.0" cy="400.0" r="5"/>
<circle cx="839.0" cy="403.0" r="5"/>
<circle cx="832.0" cy="405.0" r="5"/>
<circle cx="838.0" cy="409.0" r="5"/>
<circle cx="825.0" cy="402.0" r="5"/>
<circle cx="816.5" cy="393.5" r="5"/>
<circle cx="802.0" cy="397.0" r="5"/>
<circle cx="807.0" cy="400.0" r="5"/>
<circle cx="800.5" cy="409.0" r="5"/>
<circle cx="790.0" cy="407.0" r="5"/>
<circle cx="788.0" cy="413.0" r="5"/>
<circle cx="793.0" cy="416.0" r="5"/>
<circle cx="793.0" cy="422.0" r="5"/>
<circle cx="788.0" cy="426.0" r="5"/>
<circle cx="768.5" cy="397.5" r="5"/>
<circle cx="764.0" cy="400.0" r="5"/>
<circle cx="780.0" cy="399.5" r="5"/>
<circle cx="762.5" cy="408.0" r="5"/>
<circle cx="771.0" cy="408.0" r="5"/>
<circle cx="755.0" cy="400.0" r="5"/>
<circle cx="821.0" cy="414.0" r="5"/>
<circle cx="831.0" cy="413.0" r="5"/>
<circle cx="832.0" cy="418.0" r="5"/>
<circle cx="823.0" cy="420.0" r="5"/>
<circle cx="805.0" cy="426.0" r="5"/>
<circle cx="812.0" cy="425.5" r="5"/>
<circle cx="820.0" cy="427.0" r="5"/>
<circle cx="828.0" cy="428.0" r="5"/>
<circle cx="802.0" cy="430.0" r="5"/>
<circle cx="816.0" cy="431.0" r="5"/>
<circle cx="816.0" cy="436.0" r="5"/>
<circle cx="759.0" cy="421.0" r="5"/>
<circle cx="767.0" cy="421.0" r="5"/>
<circle cx="774.0" cy="424.0" r="5"/>
<circle cx="761.0" cy="428.0" r="5"/>
<circle cx="757.0" cy="431.0" r="5"/>
<circle cx="755.0" cy="425.0" r="5"/>
<circle cx="780.0" cy="438.0" r="5"/>
<circle cx="778.0" cy="445.0" r="5"/>
<circle cx="788.0" cy="445.0" r="5"/>
<circle cx="793.5" cy="450.0" r="5"/>
<circle cx="767.0" cy="444.0" r="5"/>
<circle cx="758.0" cy="449.0" r="5"/>
<circle cx="755.0" cy="440.0" r="5"/>
<circle cx="813.0" cy="450.0" r="5"/>
<circle cx="811.0" cy="455.0" r="5"/>
<circle cx="828.0" cy="446.0" r="5"/>
<circle cx="827.0" cy="452.0" r="5"/>
<circle cx="830.0" cy="460.0" r="5"/>
<circle cx="829.0" cy="466.0" r="5"/>
<circle cx="825.0" cy="471.0" r="5"/>
<circle cx="831.0" cy="476.0" r="5"/>
<circle cx="827.0" cy="484.0" r="5"/>
<circle cx="814.0" cy="474.0" r="5"/>
<circle cx="804.0" cy="470.0" r="5"/>
<circle cx="787.0" cy="473.5" r="5"/>
<circle cx="767.5" cy="485.5" r="5"/>
<circle cx="796.0" cy="486.5" r="5"/>
<circle cx="787.0" cy="495.5" r="5"/>
<circle cx="758.0" cy="493.0" r="5"/>
<circle cx="796.0" cy="507.5" r="5"/>
<circle cx="766.0" cy="510.0" r="5"/>
<circle cx="814.0" cy="510.0" r="5"/>
<circle cx="829.0" cy="507.0" r="5"/>
<circle cx="839.0" cy="509.0" r="5"/>
<circle cx="853.0" cy="495.5" r="5"/>
<circle cx="845.0" cy="427.0" r="5"/>
<circle cx="843.0" cy="430.0" r="5"/>
<circle cx="847.0" cy="434.0" r="5"/>
<circle cx="846.0" cy="437.0" r="5"/>
<circle cx="860.0" cy="437.0" r="5"/>
<circle cx="869.0" cy="438.0" r="5"/>
<circle cx="870.0" cy="441.0" r="5"/>
<circle cx="879.0" cy="446.0" r="5"/>
<circle cx="866.0" cy="454.0" r="5"/>
<circle cx="871.0" cy="458.5" r="5"/>
<circle cx="845.0" cy="460.5" r="5"/>
<circle cx="851.0" cy="458.5" r="5"/>
<circle cx="882.0" cy="467.0" r="5"/>
<circle cx="885.0" cy="474.0" r="5"/>
<circle cx="880.5" cy="481.5" r="5"/>
<circle cx="889.0" cy="492.5" r="5"/>
<circle cx="865.0" cy="368.5" r="5"/>
<circle cx="870.5" cy="368.5" r="5"/>
<circle cx="865.0" cy="377.0" r="5"/>
<circle cx="883.0" cy="377.0" r="5"/>
<circle cx="899.0" cy="371.0" r="5"/>
<circle cx="903.0" cy="369.5" r="5"/>
<circle cx="913.0" cy="368.5" r="5"/>
<circle cx="893.5" cy="380.0" r="5"/>
<circle cx="898.0" cy="384.0" r="5"/>
<circle cx="903.0" cy="389.0" r="5"/>
<circle cx="897.0" cy="393.0" r="5"/>
<circle cx="892.0" cy="397.0" r="5"/>
<circle cx="888.0" cy="400.0" r="5"/>
<circle cx="884.0" cy="402.0" r="5"/>
<circle cx="879.0" cy="404.0" r="5"/>
<circle cx="875.0" cy="402.0" r="5"/>
<circle cx="864.0" cy="412.5" r="5"/>
<circle cx="914.0" cy="380.0" r="5"/>
<circle cx="913.0" cy="385.0" r="5"/>
<circle cx="921.0" cy="386.0" r="5"/>
<circle cx="917.0" cy="391.0" r="5"/>
<circle cx="924.0" cy="392.0" r="5"/>
<circle cx="919.0" cy="397.0" r="5"/>
<circle cx="930.0" cy="400.5" r="5"/>
<circle cx="903.0" cy="406.5" r="5"/>
<circle cx="934.0" cy="411.5" r="5"/>
<circle cx="921.0" cy="411.0" r="5"/>
<circle cx="916.0" cy="417.0" r="5"/>
<circle cx="884.0" cy="426.0" r="5"/>
<circle cx="891.0" cy="426.0" r="5"/>
<circle cx="900.0" cy="425.5" r="5"/>
<circle cx="888.0" cy="432.0" r="5"/>
<circle cx="899.0" cy="432.0" r="5"/>
<circle cx="926.0" cy="425.0" r="5"/>
<circle cx="933.0" cy="429.0" r="5"/>
<circle cx="925.0" cy="432.0" r="5"/>
<circle cx="931.0" cy="433.0" r="5"/>
<circle cx="923.0" cy="438.0" r="5"/>
<circle cx="911.0" cy="440.0" r="5"/>
<circle cx="909.0" cy="444.0" r="5"/>
<circle cx="917.0" cy="445.0" r="5"/>
<circle cx="925.0" cy="446.0" r="5"/>
<circle cx="926.0" cy="448.0" r="5"/>
<circle cx="905.0" cy="450.5" r="5"/>
<circle cx="895.0" cy="453.5" r="5"/>
<circle cx="896.0" cy="456.0" r="5"/>
<circle cx="905.5" cy="467.5" r="5"/>
<circle cx="468.0" cy="510.0" r="5"/>
<circle cx="479.0" cy="516.0" r="5"/>
<circle cx="485.0" cy="514.5" r="5"/>
<circle cx="478.0" cy="525.0" r="5"/>
<circle cx="482.0" cy="533.5" r="5"/>
<circle cx="473.0" cy="536.5" r="5"/>
<circle cx="495.5" cy="525.5" r="5"/>
<circle cx="523.0" cy="523.0" r="5"/>
<circle cx="525.0" cy="518.0" r="5"/>
<circle cx="535.0" cy="525.0" r="5"/>
<circle cx="538.0" cy="518.0" r="5"/>
<circle cx="528.5" cy="533.5" r="5"/>
<circle cx="528.0" cy="537.0" r="5"/>
<circle cx="518.0" cy="539.5" r="5"/>
<circle cx="515.0" cy="544.0" r="5"/>
<circle cx="513.0" cy="549.0" r="5"/>
<circle cx="529.0" cy="547.5" r="5"/>
<circle cx="524.0" cy="553.0" r="5"/>
<circle cx="525.0" cy="560.0" r="5"/>
<circle cx="461.0" cy="550.0" r="5"/>
<circle cx="470.0" cy="547.0" r="5"/>
<circle cx="479.5" cy="549.0" r="5"/>
<circle cx="459.5" cy="569.0" r="5"/>
<circle cx="478.0" cy="565.0" r="5"/>
<circle cx="483.0" cy="571.5" r="5"/>
<circle cx="475.5" cy="575.5" r="5"/>
<circle cx="499.5" cy="573.0" r="5"/>
<circle cx="472.0" cy="584.5" r="5"/>
<circle cx="467.0" cy="587.0" r="5"/>
<circle cx="450.5" cy="596.0" r="5"/>
<circle cx="459.0" cy="596.5" r="5"/>
<circle cx="469.0" cy="606.0" r="5"/>
<circle cx="450.0" cy="610.0" r="5"/>
<circle cx="500.5" cy="601.8" r="5"/>
<circle cx="467.5" cy="617.5" r="5"/>
<circle cx="435.5" cy="624.5" r="5"/>
<circle cx="450.0" cy="625.5" r="5"/>
<circle cx="457.5" cy="625.5" r="5"/>
<circle cx="465.0" cy="625.0" r="5"/>
<circle cx="468.5" cy="631.5" r="5"/>
<circle cx="487.5" cy="625.0" r="5"/>
<circle cx="528.0" cy="626.5" r="5"/>
<circle cx="524.0" cy="629.5" r="5"/>
<circle cx="545.0" cy="626.0" r="5"/>
<circle cx="505.5" cy="637.0" r="5"/>
<circle cx="509.0" cy="645.0" r="5"/>
<circle cx="422.0" cy="639.0" r="5"/>
<circle cx="427.0" cy="645.0" r="5"/>
<circle cx="437.5" cy="641.5" r="5"/>
<circle cx="403.5" cy="649.0" r="5"/>
<circle cx="419.0" cy="651.0" r="5"/>
<circle cx="428.0" cy="655.0" r="5"/>
<circle cx="453.0" cy="651.0" r="5"/>
<circle cx="474.5" cy="646.5" r="5"/>
<circle cx="473.0" cy="653.0" r="5"/>
<circle cx="491.0" cy="654.0" r="5"/>
<circle cx="540.0" cy="653.0" r="5"/>
<circle cx="408.0" cy="660.0" r="5"/>
<circle cx="437.0" cy="660.0" r="5"/>
<circle cx="560.5" cy="516.0" r="5"/>
<circle cx="582.5" cy="516.0" r="5"/>
<circle cx="600.0" cy="519.5" r="5"/>
<circle cx="615.0" cy="520.0" r="5"/>
<circle cx="625.0" cy="523.0" r="5"/>
<circle cx="620.0" cy="530.0" r="5"/>
<circle cx="638.0" cy="529.0" r="5"/>
<circle cx="635.0" cy="535.0" r="5"/>
<circle cx="654.0" cy="521.0" r="5"/>
<circle cx="656.0" cy="514.0" r="5"/>
<circle cx="676.0" cy="518.0" r="5"/>
<circle cx="680.0" cy="523.0" r="5"/>
<circle cx="698.5" cy="529.0" r="5"/>
<circle cx="725.0" cy="513.0" r="5"/>
<circle cx="730.0" cy="523.0" r="5"/>
<circle cx="737.0" cy="525.0" r="5"/>
<circle cx="734.0" cy="535.0" r="5"/>
<circle cx="745.0" cy="530.0" r="5"/>
<circle cx="746.0" cy="538.0" r="5"/>
<circle cx="753.0" cy="537.0" r="5"/>
<circle cx="753.0" cy="515.0" r="5"/>
<circle cx="589.0" cy="536.0" r="5"/>
<circle cx="595.0" cy="538.0" r="5"/>
<circle cx="597.0" cy="543.0" r="5"/>
<circle cx="592.0" cy="554.0" r="5"/>
<circle cx="599.0" cy="552.0" r="5"/>
<circle cx="606.0" cy="545.0" r="5"/>
<circle cx="612.0" cy="544.0" r="5"/>
<circle cx="559.0" cy="544.0" r="5"/>
<circle cx="624.0" cy="540.0" r="5"/>
<circle cx="626.5" cy="553.0" r="5"/>
<circle cx="628.0" cy="557.0" r="5"/>
<circle cx="639.0" cy="548.0" r="5"/>
<circle cx="645.0" cy="545.5" r="5"/>
<circle cx="661.5" cy="547.0" r="5"/>
<circle cx="655.0" cy="551.0" r="5"/>
<circle cx="646.0" cy="557.5" r="5"/>
<circle cx="651.0" cy="561.0" r="5"/>
<circle cx="659.0" cy="560.0" r="5"/>
<circle cx="678.5" cy="553.0" r="5"/>
<circle cx="634.0" cy="565.5" r="5"/>
<circle cx="609.0" cy="563.0" r="5"/>
<circle cx="564.0" cy="562.0" r="5"/>
<circle cx="568.0" cy="567.5" r="5"/>
<circle cx="581.0" cy="564.5" r="5"/>
<circle cx="587.0" cy="567.0" r="5"/>
<circle cx="730.0" cy="545.0" r="5"/>
<circle cx="730.0" cy="550.0" r="5"/>
<circle cx="737.0" cy="554.0" r="5"/>
<circle cx="746.5" cy="550.5" r="5"/>
<circle cx="739.0" cy="558.0" r="5"/>
<circle cx="705.0" cy="564.0" r="5"/>
<circle cx="735.0" cy="568.0" r="5"/>
<circle cx="733.0" cy="574.0" r="5"/>
<circle cx="729.0" cy="578.0" r="5"/>
<circle cx="716.0" cy="575.0" r="5"/>
<circle cx="619.0" cy="577.0" r="5"/>
<circle cx="612.0" cy="587.0" r="5"/>
<circle cx="599.0" cy="587.0" r="5"/>
<circle cx="595.0" cy="593.0" r="5"/>
<circle cx="552.0" cy="590.0" r="5"/>
<circle cx="565.0" cy="589.5" r="5"/>
<circle cx="640.0" cy="583.0" r="5"/>
<circle cx="604.5" cy="602.5" r="5"/>
<circle cx="645.5" cy="597.5" r="5"/>
<circle cx="633.0" cy="606.5" r="5"/>
<circle cx="648.0" cy="610.5" r="5"/>
<circle cx="662.5" cy="601.8" r="5"/>
<circle cx="716.0" cy="590.0" r="5"/>
<circle cx="715.0" cy="594.0" r="5"/>
<circle cx="723.5" cy="595.0" r="5"/>
<circle cx="730.0" cy="603.0" r="5"/>
<circle cx="710.5" cy="611.0" r="5"/>
<circle cx="713.0" cy="618.0" r="5"/>
<circle cx="594.0" cy="623.5" r="5"/>
<circle cx="633.0" cy="624.5" r="5"/>
<circle cx="645.0" cy="629.0" r="5"/>
<circle cx="547.0" cy="626.0" r="5"/>
<circle cx="687.0" cy="624.0" r="5"/>
<circle cx="679.5" cy="628.5" r="5"/>
<circle cx="697.5" cy="631.0" r="5"/>
<circle cx="716.0" cy="636.0" r="5"/>
<circle cx="741.5" cy="638.0" r="5"/>
<circle cx="682.5" cy="642.0" r="5"/>
<circle cx="705.0" cy="643.0" r="5"/>
<circle cx="715.0" cy="647.0" r="5"/>
<circle cx="710.0" cy="650.0" r="5"/>
<circle cx="699.0" cy="650.0" r="5"/>
<circle cx="684.5" cy="656.0" r="5"/>
<circle cx="715.0" cy="657.0" r="5"/>
<circle cx="671.0" cy="659.0" r="5"/>
<circle cx="647.0" cy="659.0" r="5"/>
<circle cx="571.5" cy="655.0" r="5"/>
<circle cx="583.0" cy="660.0" r="5"/>
<circle cx="545.0" cy="658.0" r="5"/>
<circle cx="739.0" cy="660.0" r="5"/>
<circle cx="773.5" cy="515.0" r="5"/>
<circle cx="817.5" cy="514.0" r="5"/>
<circle cx="833.0" cy="512.0" r="5"/>
<circle cx="842.5" cy="527.2" r="5"/>
<circle cx="802.5" cy="531.5" r="5"/>
<circle cx="800.5" cy="540.0" r="5"/>
<circle cx="825.3" cy="537.0" r="5"/>
<circle cx="773.7" cy="542.0" r="5"/>
<circle cx="399.0" cy="665.0" r="5"/>
<circle cx="411.0" cy="664.0" r="5"/>
<circle cx="408.0" cy="670.0" r="5"/>
<circle cx="397.0" cy="672.0" r="5"/>
<circle cx="422.0" cy="661.0" r="5"/>
<circle cx="434.0" cy="661.0" r="5"/>
<circle cx="422.5" cy="672.5" r="5"/>
<circle cx="434.0" cy="675.0" r="5"/>
<circle cx="443.0" cy="677.0" r="5"/>
<circle cx="385.0" cy="680.0" r="5"/>
<circle cx="407.0" cy="679.0" r="5"/>
<circle cx="418.0" cy="681.0" r="5"/>
<circle cx="430.0" cy="681.0" r="5"/>
<circle cx="397.0" cy="686.0" r="5"/>
<circle cx="405.0" cy="690.0" r="5"/>
<circle cx="418.0" cy="687.0" r="5"/>
<circle cx="412.0" cy="695.0" r="5"/>
<circle cx="436.0" cy="689.0" r="5"/>
<circle cx="438.0" cy="695.0" r="5"/>
<circle cx="424.5" cy="695.0" r="5"/>
<circle cx="450.0" cy="692.0" r="5"/>
<circle cx="451.0" cy="699.0" r="5"/>
<circle cx="399.0" cy="701.5" r="5"/>
<circle cx="412.0" cy="703.0" r="5"/>
<circle cx="441.0" cy="704.0" r="5"/>
<circle cx="437.0" cy="709.0" r="5"/>
<circle cx="426.0" cy="711.0" r="5"/>
<circle cx="473.0" cy="665.0" r="5"/>
<circle cx="499.0" cy="663.0" r="5"/>
<circle cx="497.0" cy="670.0" r="5"/>
<circle cx="494.0" cy="676.0" r="5"/>
<circle cx="483.0" cy="675.0" r="5"/>
<circle cx="488.0" cy="684.0" r="5"/>
<circle cx="481.0" cy="694.0" r="5"/>
<circle cx="491.0" cy="693.0" r="5"/>
<circle cx="495.0" cy="699.0" r="5"/>
<circle cx="466.0" cy="685.0" r="5"/>
<circle cx="466.0" cy="705.0" r="5"/>
<circle cx="477.0" cy="708.0" r="5"/>
<circle cx="479.0" cy="716.0" r="5"/>
<circle cx="497.0" cy="716.0" r="5"/>
<circle cx="492.0" cy="722.0" r="5"/>
<circle cx="485.0" cy="722.0" r="5"/>
<circle cx="513.0" cy="673.0" r="5"/>
<circle cx="529.5" cy="678.5" r="5"/>
<circle cx="538.0" cy="668.0" r="5"/>
<circle cx="539.0" cy="680.0" r="5"/>
<circle cx="518.0" cy="695.5" r="5"/>
<circle cx="507.0" cy="694.0" r="5"/>
<circle cx="532.0" cy="701.0" r="5"/>
<circle cx="510.0" cy="708.0" r="5"/>
<circle cx="515.0" cy="714.0" r="5"/>
<circle cx="528.0" cy="715.0" r="5"/>
<circle cx="540.0" cy="716.0" r="5"/>
<circle cx="515.0" cy="722.0" r="5"/>
<circle cx="510.0" cy="729.0" r="5"/>
<circle cx="530.0" cy="729.0" r="5"/>
<circle cx="540.0" cy="724.0" r="5"/>
<circle cx="543.0" cy="732.0" r="5"/>
<circle cx="370.0" cy="709.0" r="5"/>
<circle cx="377.0" cy="712.0" r="5"/>
<circle cx="385.0" cy="711.0" r="5"/>
<circle cx="379.0" cy="719.0" r="5"/>
<circle cx="397.0" cy="724.0" r="5"/>
<circle cx="405.0" cy="721.0" r="5"/>
<circle cx="399.0" cy="730.0" r="5"/>
<circle cx="415.0" cy="729.0" r="5"/>
<circle cx="421.0" cy="724.0" r="5"/>
<circle cx="423.0" cy="732.0" r="5"/>
<circle cx="388.0" cy="742.5" r="5"/>
<circle cx="435.0" cy="719.0" r="5"/>
<circle cx="441.0" cy="716.0" r="5"/>
<circle cx="446.0" cy="717.0" r="5"/>
<circle cx="433.0" cy="726.0" r="5"/>
<circle cx="461.0" cy="719.5" r="5"/>
<circle cx="459.0" cy="732.0" r="5"/>
<circle cx="464.0" cy="734.0" r="5"/>
<circle cx="472.0" cy="731.5" r="5"/>
<circle cx="445.0" cy="740.0" r="5"/>
<circle cx="440.0" cy="745.0" r="5"/>
<circle cx="463.0" cy="744.0" r="5"/>
<circle cx="471.0" cy="743.0" r="5"/>
<circle cx="459.0" cy="748.0" r="5"/>
<circle cx="488.0" cy="733.0" r="5"/>
<circle cx="495.0" cy="734.0" r="5"/>
<circle cx="482.0" cy="743.0" r="5"/>
<circle cx="485.0" cy="748.0" r="5"/>
<circle cx="500.0" cy="748.0" r="5"/>
<circle cx="422.0" cy="752.0" r="5"/>
<circle cx="430.0" cy="751.0" r="5"/>
<circle cx="435.0" cy="755.0" r="5"/>
<circle cx="429.0" cy="760.0" r="5"/>
<circle cx="437.0" cy="761.0" r="5"/>
<circle cx="443.0" cy="766.0" r="5"/>
<circle cx="449.0" cy="768.0" r="5"/>
<circle cx="440.0" cy="775.0" r="5"/>
<circle cx="438.0" cy="780.0" r="5"/>
<circle cx="431.0" cy="783.0" r="5"/>
<circle cx="426.0" cy="786.0" r="5"/>
<circle cx="439.0" cy="785.0" r="5"/>
<circle cx="456.0" cy="759.0" r="5"/>
<circle cx="465.0" cy="760.0" r="5"/>
<circle cx="465.0" cy="768.0" r="5"/>
<circle cx="489.0" cy="761.0" r="5"/>
<circle cx="501.0" cy="759.0" r="5"/>
<circle cx="463.0" cy="772.0" r="5"/>
<circle cx="470.0" cy="784.0" r="5"/>
<circle cx="460.0" cy="781.0" r="5"/>
<circle cx="468.0" cy="787.0" r="5"/>
<circle cx="370.0" cy="755.0" r="5"/>
<circle cx="377.0" cy="755.0" r="5"/>
<circle cx="359.0" cy="767.0" r="5"/>
<circle cx="366.0" cy="768.0" r="5"/>
<circle cx="379.0" cy="770.0" r="5"/>
<circle cx="385.0" cy="772.0" r="5"/>
<circle cx="391.0" cy="763.0" r="5"/>
<circle cx="398.0" cy="760.0" r="5"/>
<circle cx="394.0" cy="773.0" r="5"/>
<circle cx="385.0" cy="777.0" r="5"/>
<circle cx="409.0" cy="775.0" r="5"/>
<circle cx="409.0" cy="781.0" r="5"/>
<circle cx="383.0" cy="789.0" r="5"/>
<circle cx="358.0" cy="792.0" r="5"/>
<circle cx="354.5" cy="801.0" r="5"/>
<circle cx="391.0" cy="804.0" r="5"/>
<circle cx="397.0" cy="803.0" r="5"/>
<circle cx="515.0" cy="740.0" r="5"/>
<circle cx="510.0" cy="746.0" r="5"/>
<circle cx="520.0" cy="748.0" r="5"/>
<circle cx="525.0" cy="743.0" r="5"/>
<circle cx="515.0" cy="755.0" r="5"/>
<circle cx="520.0" cy="761.0" r="5"/>
<circle cx="528.0" cy="759.0" r="5"/>
<circle cx="535.0" cy="765.0" r="5"/>
<circle cx="543.0" cy="762.0" r="5"/>
<circle cx="525.0" cy="768.0" r="5"/>
<circle cx="531.0" cy="772.0" r="5"/>
<circle cx="542.0" cy="773.0" r="5"/>
<circle cx="513.0" cy="750.0" r="5"/>
<circle cx="518.0" cy="736.0" r="5"/>
<circle cx="528.0" cy="736.0" r="5"/>
<circle cx="541.0" cy="738.0" r="5"/>
<circle cx="545.0" cy="748.0" r="5"/>
<circle cx="485.0" cy="775.0" r="5"/>
<circle cx="491.0" cy="771.0" r="5"/>
<circle cx="499.0" cy="770.0" r="5"/>
<circle cx="507.0" cy="771.0" r="5"/>
<circle cx="501.0" cy="778.0" r="5"/>
<circle cx="510.0" cy="780.0" r="5"/>
<circle cx="519.0" cy="783.0" r="5"/>
<circle cx="485.0" cy="783.0" r="5"/>
<circle cx="493.0" cy="786.0" r="5"/>
<circle cx="499.0" cy="785.0" r="5"/>
<circle cx="507.0" cy="787.0" r="5"/>
<circle cx="515.0" cy="789.0" r="5"/>
<circle cx="540.0" cy="781.0" r="5"/>
<circle cx="537.0" cy="789.0" r="5"/>
<circle cx="534.0" cy="797.0" r="5"/>
<circle cx="543.0" cy="800.0" r="5"/>
<circle cx="514.0" cy="798.0" r="5"/>
<circle cx="525.0" cy="802.0" r="5"/>
<circle cx="509.0" cy="805.0" r="5"/>
<circle cx="445.0" cy="791.0" r="5"/>
<circle cx="455.0" cy="794.5" r="5"/>
<circle cx="425.0" cy="798.0" r="5"/>
<circle cx="431.0" cy="803.0" r="5"/>
<circle cx="423.0" cy="808.0" r="5"/>
<circle cx="435.0" cy="809.0" r="5"/>
<circle cx="469.0" cy="802.0" r="5"/>
<circle cx="475.0" cy="799.0" r="5"/>
<circle cx="483.0" cy="796.0" r="5"/>
<circle cx="495.0" cy="802.0" r="5"/>
<circle cx="479.0" cy="808.0" r="5"/>
<circle cx="448.0" cy="810.0" r="5"/>
<circle cx="491.0" cy="810.0" r="5"/>
<circle cx="551.5" cy="672.0" r="5"/>
<circle cx="565.0" cy="671.0" r="5"/>
<circle cx="572.0" cy="673.0" r="5"/>
<circle cx="585.0" cy="666.0" r="5"/>
<circle cx="589.0" cy="667.0" r="5"/>
<circle cx="588.0" cy="680.0" r="5"/>
<circle cx="600.0" cy="667.0" r="5"/>
<circle cx="599.5" cy="676.5" r="5"/>
<circle cx="633.0" cy="667.5" r="5"/>
<circle cx="620.0" cy="679.0" r="5"/>
<circle cx="647.0" cy="670.5" r="5"/>
<circle cx="641.5" cy="682.0" r="5"/>
<circle cx="672.5" cy="664.5" r="5"/>
<circle cx="690.0" cy="663.0" r="5"/>
<circle cx="698.0" cy="663.0" r="5"/>
<circle cx="710.0" cy="671.0" r="5"/>
<circle cx="738.0" cy="663.0" r="5"/>
<circle cx="754.0" cy="675.0" r="5"/>
<circle cx="733.0" cy="688.0" r="5"/>
<circle cx="755.0" cy="688.0" r="5"/>
<circle cx="580.5" cy="689.0" r="5"/>
<circle cx="572.0" cy="694.0" r="5"/>
<circle cx="580.0" cy="696.0" r="5"/>
<circle cx="565.0" cy="700.0" r="5"/>
<circle cx="563.0" cy="703.0" r="5"/>
<circle cx="554.0" cy="709.0" r="5"/>
<circle cx="559.0" cy="710.0" r="5"/>
<circle cx="578.0" cy="709.0" r="5"/>
<circle cx="597.5" cy="698.5" r="5"/>
<circle cx="606.0" cy="693.0" r="5"/>
<circle cx="606.0" cy="704.0" r="5"/>
<circle cx="617.0" cy="703.0" r="5"/>
<circle cx="607.0" cy="711.0" r="5"/>
<circle cx="609.0" cy="718.0" r="5"/>
<circle cx="585.5" cy="719.0" r="5"/>
<circle cx="583.0" cy="725.0" r="5"/>
<circle cx="590.0" cy="726.0" r="5"/>
<circle cx="579.0" cy="731.0" r="5"/>
<circle cx="579.0" cy="737.0" r="5"/>
<circle cx="635.0" cy="692.0" r="5"/>
<circle cx="629.0" cy="696.5" r="5"/>
<circle cx="655.0" cy="691.5" r="5"/>
<circle cx="662.5" cy="695.0" r="5"/>
<circle cx="641.0" cy="707.5" r="5"/>
<circle cx="650.0" cy="709.5" r="5"/>
<circle cx="660.0" cy="712.5" r="5"/>
<circle cx="666.5" cy="719.0" r="5"/>
<circle cx="691.0" cy="715.8" r="5"/>
<circle cx="722.0" cy="714.5" r="5"/>
<circle cx="729.0" cy="716.0" r="5"/>
<circle cx="553.0" cy="725.0" r="5"/>
<circle cx="565.0" cy="730.0" r="5"/>
<circle cx="549.0" cy="730.0" r="5"/>
<circle cx="562.0" cy="736.0" r="5"/>
<circle cx="556.0" cy="739.0" r="5"/>
<circle cx="548.0" cy="740.0" r="5"/>
<circle cx="569.0" cy="746.0" r="5"/>
<circle cx="571.0" cy="748.0" r="5"/>
<circle cx="551.0" cy="760.0" r="5"/>
<circle cx="568.5" cy="761.0" r="5"/>
<circle cx="549.0" cy="770.0" r="5"/>
<circle cx="597.0" cy="737.0" r="5"/>
<circle cx="605.5" cy="735.0" r="5"/>
<circle cx="619.0" cy="734.5" r="5"/>
<circle cx="627.5" cy="732.5" r="5"/>
<circle cx="637.5" cy="733.5" r="5"/>
<circle cx="650.0" cy="739.0" r="5"/>
<circle cx="657.5" cy="744.0" r="5"/>
<circle cx="666.5" cy="735.5" r="5"/>
<circle cx="635.0" cy="744.0" r="5"/>
<circle cx="621.0" cy="745.0" r="5"/>
<circle cx="615.0" cy="743.0" r="5"/>
<circle cx="625.0" cy="751.0" r="5"/>
<circle cx="635.0" cy="755.0" r="5"/>
<circle cx="641.0" cy="755.0" r="5"/>
<circle cx="645.0" cy="761.0" r="5"/>
<circle cx="583.0" cy="747.0" r="5"/>
<circle cx="593.0" cy="749.0" r="5"/>
<circle cx="601.0" cy="752.5" r="5"/>
<circle cx="587.0" cy="756.0" r="5"/>
<circle cx="593.0" cy="756.0" r="5"/>
<circle cx="589.0" cy="765.0" r="5"/>
<circle cx="588.0" cy="770.0" r="5"/>
<circle cx="619.0" cy="761.0" r="5"/>
<circle cx="603.0" cy="765.0" r="5"/>
<circle cx="609.0" cy="771.0" r="5"/>
<circle cx="661.0" cy="754.0" r="5"/>
<circle cx="669.0" cy="753.0" r="5"/>
<circle cx="683.5" cy="754.0" r="5"/>
<circle cx="665.0" cy="764.0" r="5"/>
<circle cx="688.0" cy="764.0" r="5"/>
<circle cx="702.0" cy="769.0" r="5"/>
<circle cx="679.5" cy="771.5" r="5"/>
<circle cx="637.0" cy="769.5" r="5"/>
<circle cx="645.0" cy="775.0" r="5"/>
<circle cx="655.0" cy="770.0" r="5"/>
<circle cx="648.0" cy="778.0" r="5"/>
<circle cx="659.0" cy="777.0" r="5"/>
<circle cx="626.0" cy="773.0" r="5"/>
<circle cx="603.0" cy="780.0" r="5"/>
<circle cx="551.0" cy="774.0" r="5"/>
<circle cx="561.0" cy="777.0" r="5"/>
<circle cx="571.0" cy="775.0" r="5"/>
<circle cx="576.0" cy="776.0" r="5"/>
<circle cx="565.0" cy="782.0" r="5"/>
<circle cx="551.0" cy="785.0" r="5"/>
<circle cx="562.0" cy="789.0" r="5"/>
<circle cx="551.0" cy="792.0" r="5"/>
<circle cx="580.0" cy="791.0" r="5"/>
<circle cx="589.0" cy="788.0" r="5"/>
<circle cx="588.0" cy="796.0" r="5"/>
<circle cx="599.0" cy="798.0" r="5"/>
<circle cx="595.0" cy="802.0" r="5"/>
<circle cx="604.0" cy="806.0" r="5"/>
<circle cx="588.0" cy="807.0" r="5"/>
<circle cx="545.0" cy="808.0" r="5"/>
<circle cx="696.5" cy="779.0" r="5"/>
<circle cx="705.0" cy="780.0" r="5"/>
<circle cx="703.0" cy="786.0" r="5"/>
<circle cx="710.0" cy="787.0" r="5"/>
<circle cx="694.0" cy="788.0" r="5"/>
<circle cx="692.0" cy="795.0" r="5"/>
<circle cx="724.0" cy="778.0" r="5"/>
<circle cx="726.0" cy="782.0" r="5"/>
<circle cx="724.5" cy="791.5" r="5"/>
<circle cx="720.0" cy="800.0" r="5"/>
<circle cx="743.5" cy="792.0" r="5"/>
<circle cx="748.5" cy="796.5" r="5"/>
<circle cx="735.0" cy="800.0" r="5"/>
<circle cx="709.0" cy="804.0" r="5"/>
<circle cx="695.0" cy="808.0" r="5"/>
<circle cx="657.0" cy="790.0" r="5"/>
<circle cx="661.0" cy="795.0" r="5"/>
<circle cx="668.0" cy="799.0" r="5"/>
<circle cx="674.0" cy="804.0" r="5"/>
<circle cx="637.0" cy="795.0" r="5"/>
<circle cx="645.0" cy="796.0" r="5"/>
<circle cx="622.0" cy="785.0" r="5"/>
<circle cx="639.0" cy="808.0" r="5"/>
<circle cx="652.0" cy="806.0" r="5"/>
<circle cx="683.0" cy="809.0" r="5"/>
<circle cx="751.0" cy="809.0" r="5"/>
<circle cx="622.0" cy="810.0" r="5"/>
<circle cx="758.0" cy="668.0" r="5"/>
<circle cx="766.0" cy="673.0" r="5"/>
<circle cx="764.0" cy="682.0" r="5"/>
<circle cx="770.0" cy="691.0" r="5"/>
<circle cx="776.0" cy="689.0" r="5"/>
<circle cx="786.0" cy="678.0" r="5"/>
<circle cx="788.0" cy="692.0" r="5"/>
<circle cx="795.0" cy="696.0" r="5"/>
<circle cx="797.0" cy="687.0" r="5"/>
<circle cx="802.0" cy="684.5" r="5"/>
<circle cx="811.0" cy="692.0" r="5"/>
<circle cx="774.5" cy="708.0" r="5"/>
<circle cx="786.8" cy="709.7" r="5"/>
<circle cx="825.0" cy="776.5" r="5"/>
<circle cx="814.0" cy="783.0" r="5"/>
<circle cx="820.5" cy="791.5" r="5"/>
<circle cx="816.0" cy="795.0" r="5"/>
<circle cx="817.5" cy="799.0" r="5"/>
<circle cx="760.5" cy="806.0" r="5"/>
<circle cx="767.0" cy="810.0" r="5"/>
<circle cx="788.0" cy="808.0" r="5"/>
<circle cx="807.0" cy="806.0" r="5"/>
<circle cx="841.0" cy="811.0" r="5"/>
<circle cx="381.0" cy="814.0" r="5"/>
<circle cx="390.5" cy="813.0" r="5"/>
<circle cx="416.5" cy="819.0" r="5"/>
<circle cx="438.0" cy="813.0" r="5"/>
<circle cx="367.0" cy="824.5" r="5"/>
<circle cx="378.0" cy="825.0" r="5"/>
<circle cx="389.0" cy="827.0" r="5"/>
<circle cx="383.0" cy="836.0" r="5"/>
<circle cx="395.0" cy="838.0" r="5"/>
<circle cx="396.0" cy="844.0" r="5"/>
<circle cx="393.0" cy="851.0" r="5"/>
<circle cx="379.0" cy="849.5" r="5"/>
<circle cx="373.0" cy="856.0" r="5"/>
<circle cx="358.0" cy="858.7" r="5"/>
<circle cx="379.0" cy="863.0" r="5"/>
<circle cx="389.0" cy="869.0" r="5"/>
<circle cx="389.0" cy="875.0" r="5"/>
<circle cx="398.0" cy="860.0" r="5"/>
<circle cx="400.0" cy="866.0" r="5"/>
<circle cx="408.5" cy="831.5" r="5"/>
<circle cx="418.0" cy="830.0" r="5"/>
<circle cx="420.0" cy="835.0" r="5"/>
<circle cx="409.0" cy="843.0" r="5"/>
<circle cx="409.0" cy="853.0" r="5"/>
<circle cx="416.0" cy="865.0" r="5"/>
<circle cx="421.0" cy="874.0" r="5"/>
<circle cx="418.0" cy="879.0" r="5"/>
<circle cx="398.0" cy="882.0" r="5"/>
<circle cx="408.0" cy="883.0" r="5"/>
<circle cx="407.0" cy="889.0" r="5"/>
<circle cx="408.0" cy="895.0" r="5"/>
<circle cx="414.0" cy="884.0" r="5"/>
<circle cx="436.0" cy="823.0" r="5"/>
<circle cx="434.0" cy="829.0" r="5"/>
<circle cx="433.0" cy="836.0" r="5"/>
<circle cx="449.0" cy="829.0" r="5"/>
<circle cx="453.0" cy="834.0" r="5"/>
<circle cx="455.0" cy="823.0" r="5"/>
<circle cx="462.0" cy="823.0" r="5"/>
<circle cx="469.0" cy="819.0" r="5"/>
<circle cx="474.0" cy="816.0" r="5"/>
<circle cx="444.0" cy="844.0" r="5"/>
<circle cx="460.0" cy="843.0" r="5"/>
<circle cx="443.0" cy="853.0" r="5"/>
<circle cx="457.0" cy="852.0" r="5"/>
<circle cx="451.0" cy="863.0" r="5"/>
<circle cx="450.0" cy="868.0" r="5"/>
<circle cx="449.0" cy="877.0" r="5"/>
<circle cx="463.0" cy="872.0" r="5"/>
<circle cx="466.0" cy="868.0" r="5"/>
<circle cx="435.0" cy="871.0" r="5"/>
<circle cx="434.0" cy="877.0" r="5"/>
<circle cx="435.0" cy="882.0" r="5"/>
<circle cx="436.0" cy="889.0" r="5"/>
<circle cx="435.0" cy="895.0" r="5"/>
<circle cx="425.0" cy="886.0" r="5"/>
<circle cx="422.0" cy="889.0" r="5"/>
<circle cx="453.5" cy="888.0" r="5"/>
<circle cx="450.5" cy="898.5" r="5"/>
<circle cx="464.0" cy="897.5" r="5"/>
<circle cx="473.0" cy="833.0" r="5"/>
<circle cx="484.0" cy="838.0" r="5"/>
<circle cx="479.0" cy="849.0" r="5"/>
<circle cx="476.0" cy="852.0" r="5"/>
<circle cx="479.0" cy="859.0" r="5"/>
<circle cx="475.0" cy="864.0" r="5"/>
<circle cx="487.0" cy="861.0" r="5"/>
<circle cx="495.5" cy="857.0" r="5"/>
<circle cx="504.0" cy="855.0" r="5"/>
<circle cx="488.0" cy="823.0" r="5"/>
<circle cx="492.0" cy="819.0" r="5"/>
<circle cx="495.0" cy="830.0" r="5"/>
<circle cx="500.0" cy="833.0" r="5"/>
<circle cx="491.0" cy="814.0" r="5"/>
<circle cx="509.0" cy="823.0" r="5"/>
<circle cx="514.0" cy="817.0" r="5"/>
<circle cx="522.0" cy="819.0" r="5"/>
<circle cx="521.0" cy="827.0" r="5"/>
<circle cx="519.0" cy="813.0" r="5"/>
<circle cx="535.0" cy="813.0" r="5"/>
<circle cx="543.0" cy="813.0" r="5"/>
<circle cx="538.0" cy="837.0" r="5"/>
<circle cx="534.0" cy="843.0" r="5"/>
<circle cx="531.0" cy="849.0" r="5"/>
<circle cx="517.0" cy="850.0" r="5"/>
<circle cx="513.0" cy="864.0" r="5"/>
<circle cx="526.0" cy="862.0" r="5"/>
<circle cx="535.0" cy="857.0" r="5"/>
<circle cx="535.0" cy="870.0" r="5"/>
<circle cx="532.0" cy="876.0" r="5"/>
<circle cx="534.5" cy="883.0" r="5"/>
<circle cx="479.0" cy="887.0" r="5"/>
<circle cx="493.0" cy="886.0" r="5"/>
<circle cx="497.0" cy="883.0" r="5"/>
<circle cx="505.0" cy="885.0" r="5"/>
<circle cx="511.0" cy="879.0" r="5"/>
<circle cx="518.0" cy="879.0" r="5"/>
<circle cx="516.0" cy="882.0" r="5"/>
<circle cx="501.0" cy="897.0" r="5"/>
<circle cx="486.0" cy="901.5" r="5"/>
<circle cx="497.0" cy="908.0" r="5"/>
<circle cx="526.0" cy="897.0" r="5"/>
<circle cx="533.0" cy="900.0" r="5"/>
<circle cx="518.0" cy="905.5" r="5"/>
<circle cx="527.0" cy="909.0" r="5"/>
<circle cx="351.5" cy="887.8" r="5"/>
<circle cx="375.0" cy="885.0" r="5"/>
<circle cx="381.0" cy="884.0" r="5"/>
<circle cx="389.0" cy="889.0" r="5"/>
<circle cx="372.0" cy="892.0" r="5"/>
<circle cx="357.0" cy="899.0" r="5"/>
<circle cx="367.0" cy="900.0" r="5"/>
<circle cx="382.0" cy="900.0" r="5"/>
<circle cx="350.5" cy="909.5" r="5"/>
<circle cx="361.0" cy="910.0" r="5"/>
<circle cx="358.0" cy="916.0" r="5"/>
<circle cx="368.0" cy="913.0" r="5"/>
<circle cx="378.0" cy="911.0" r="5"/>
<circle cx="380.0" cy="914.0" r="5"/>
<circle cx="355.0" cy="924.0" r="5"/>
<circle cx="377.0" cy="918.0" r="5"/>
<circle cx="388.0" cy="921.0" r="5"/>
<circle cx="392.5" cy="923.0" r="5"/>
<circle cx="376.0" cy="928.0" r="5"/>
<circle cx="367.0" cy="931.0" r="5"/>
<circle cx="358.0" cy="927.0" r="5"/>
<circle cx="397.0" cy="902.0" r="5"/>
<circle cx="405.0" cy="916.0" r="5"/>
<circle cx="410.0" cy="920.0" r="5"/>
<circle cx="414.0" cy="923.0" r="5"/>
<circle cx="421.0" cy="906.0" r="5"/>
<circle cx="429.0" cy="911.0" r="5"/>
<circle cx="442.0" cy="906.0" r="5"/>
<circle cx="460.0" cy="911.0" r="5"/>
<circle cx="469.5" cy="907.5" r="5"/>
<circle cx="461.0" cy="916.0" r="5"/>
<circle cx="453.5" cy="919.0" r="5"/>
<circle cx="443.0" cy="921.0" r="5"/>
<circle cx="432.0" cy="922.0" r="5"/>
<circle cx="429.0" cy="925.0" r="5"/>
<circle cx="428.0" cy="929.0" r="5"/>
<circle cx="470.5" cy="924.0" r="5"/>
<circle cx="463.0" cy="929.0" r="5"/>
<circle cx="468.0" cy="932.0" r="5"/>
<circle cx="471.0" cy="938.0" r="5"/>
<circle cx="460.0" cy="937.0" r="5"/>
<circle cx="451.0" cy="939.0" r="5"/>
<circle cx="441.0" cy="935.0" r="5"/>
<circle cx="441.0" cy="942.0" r="5"/>
<circle cx="433.0" cy="943.0" r="5"/>
<circle cx="445.0" cy="947.0" r="5"/>
<circle cx="438.0" cy="949.0" r="5"/>
<circle cx="449.0" cy="950.0" r="5"/>
<circle cx="441.0" cy="953.0" r="5"/>
<circle cx="423.0" cy="945.0" r="5"/>
<circle cx="417.0" cy="937.0" r="5"/>
<circle cx="415.0" cy="941.0" r="5"/>
<circle cx="397.5" cy="935.0" r="5"/>
<circle cx="404.0" cy="938.0" r="5"/>
<circle cx="400.0" cy="942.0" r="5"/>
<circle cx="406.0" cy="942.0" r="5"/>
<circle cx="553.0" cy="816.0" r="5"/>
<circle cx="568.0" cy="822.5" r="5"/>
<circle cx="561.0" cy="825.0" r="5"/>
<circle cx="551.0" cy="832.0" r="5"/>
<circle cx="557.5" cy="836.0" r="5"/>
<circle cx="545.0" cy="841.0" r="5"/>
<circle cx="550.0" cy="856.5" r="5"/>
<circle cx="580.5" cy="814.0" r="5"/>
<circle cx="584.0" cy="819.0" r="5"/>
<circle cx="578.0" cy="822.5" r="5"/>
<circle cx="601.0" cy="823.0" r="5"/>
<circle cx="606.0" cy="817.0" r="5"/>
<circle cx="615.0" cy="816.0" r="5"/>
<circle cx="615.0" cy="823.0" r="5"/>
<circle cx="623.0" cy="815.0" r="5"/>
<circle cx="630.0" cy="819.0" r="5"/>
<circle cx="637.0" cy="815.0" r="5"/>
<circle cx="644.0" cy="825.0" r="5"/>
<circle cx="650.0" cy="812.0" r="5"/>
<circle cx="655.0" cy="811.0" r="5"/>
<circle cx="685.0" cy="813.0" r="5"/>
<circle cx="689.0" cy="814.0" r="5"/>
<circle cx="699.5" cy="818.5" r="5"/>
<circle cx="718.0" cy="811.0" r="5"/>
<circle cx="720.5" cy="820.0" r="5"/>
<circle cx="729.0" cy="820.5" r="5"/>
<circle cx="740.0" cy="822.5" r="5"/>
<circle cx="748.0" cy="815.0" r="5"/>
<circle cx="723.0" cy="832.0" r="5"/>
<circle cx="730.0" cy="836.5" r="5"/>
<circle cx="737.0" cy="839.5" r="5"/>
<circle cx="749.0" cy="829.0" r="5"/>
<circle cx="752.0" cy="836.0" r="5"/>
<circle cx="658.0" cy="827.0" r="5"/>
<circle cx="672.5" cy="825.5" r="5"/>
<circle cx="660.0" cy="835.0" r="5"/>
<circle cx="665.0" cy="839.5" r="5"/>
<circle cx="682.0" cy="827.0" r="5"/>
<circle cx="685.0" cy="828.0" r="5"/>
<circle cx="689.0" cy="834.0" r="5"/>
<circle cx="708.5" cy="839.0" r="5"/>
<circle cx="585.0" cy="831.5" r="5"/>
<circle cx="591.0" cy="833.0" r="5"/>
<circle cx="586.0" cy="838.0" r="5"/>
<circle cx="594.0" cy="838.5" r="5"/>
<circle cx="602.0" cy="836.0" r="5"/>
<circle cx="610.5" cy="835.0" r="5"/>
<circle cx="577.0" cy="843.0" r="5"/>
<circle cx="567.5" cy="844.5" r="5"/>
<circle cx="578.0" cy="847.0" r="5"/>
<circle cx="574.0" cy="849.5" r="5"/>
<circle cx="580.0" cy="853.0" r="5"/>
<circle cx="607.0" cy="846.5" r="5"/>
<circle cx="614.0" cy="848.0" r="5"/>
<circle cx="621.5" cy="842.0" r="5"/>
<circle cx="629.5" cy="840.0" r="5"/>
<circle cx="631.0" cy="843.0" r="5"/>
<circle cx="638.5" cy="848.5" r="5"/>
<circle cx="609.0" cy="857.0" r="5"/>
<circle cx="602.5" cy="862.0" r="5"/>
<circle cx="609.0" cy="866.0" r="5"/>
<circle cx="618.0" cy="867.0" r="5"/>
<circle cx="616.0" cy="874.0" r="5"/>
<circle cx="617.0" cy="880.0" r="5"/>
<circle cx="614.0" cy="886.0" r="5"/>
<circle cx="619.0" cy="890.0" r="5"/>
<circle cx="611.5" cy="891.0" r="5"/>
<circle cx="606.0" cy="883.0" r="5"/>
<circle cx="650.0" cy="855.0" r="5"/>
<circle cx="654.0" cy="859.0" r="5"/>
<circle cx="651.0" cy="863.0" r="5"/>
<circle cx="660.5" cy="854.0" r="5"/>
<circle cx="669.0" cy="851.0" r="5"/>
<circle cx="663.0" cy="862.0" r="5"/>
<circle cx="669.0" cy="860.0" r="5"/>
<circle cx="665.0" cy="866.0" r="5"/>
<circle cx="673.0" cy="867.0" r="5"/>
<circle cx="680.0" cy="871.0" r="5"/>
<circle cx="679.5" cy="858.5" r="5"/>
<circle cx="688.0" cy="862.0" r="5"/>
<circle cx="692.0" cy="861.0" r="5"/>
<circle cx="696.0" cy="852.0" r="5"/>
<circle cx="699.0" cy="854.0" r="5"/>
<circle cx="707.0" cy="850.0" r="5"/>
<circle cx="651.5" cy="874.0" r="5"/>
<circle cx="629.0" cy="866.0" r="5"/>
<circle cx="638.0" cy="866.0" r="5"/>
<circle cx="634.0" cy="872.0" r="5"/>
<circle cx="625.0" cy="880.0" r="5"/>
<circle cx="722.0" cy="848.5" r="5"/>
<circle cx="728.0" cy="854.0" r="5"/>
<circle cx="740.5" cy="849.5" r="5"/>
<circle cx="750.0" cy="847.0" r="5"/>
<circle cx="741.0" cy="859.0" r="5"/>
<circle cx="735.0" cy="860.0" r="5"/>
<circle cx="729.5" cy="867.5" r="5"/>
<circle cx="721.0" cy="865.0" r="5"/>
<circle cx="715.0" cy="866.0" r="5"/>
<circle cx="709.0" cy="870.0" r="5"/>
<circle cx="702.0" cy="871.0" r="5"/>
<circle cx="707.0" cy="873.0" r="5"/>
<circle cx="568.0" cy="866.0" r="5"/>
<circle cx="579.5" cy="868.0" r="5"/>
<circle cx="592.0" cy="867.5" r="5"/>
<circle cx="564.0" cy="875.0" r="5"/>
<circle cx="563.0" cy="879.0" r="5"/>
<circle cx="591.5" cy="875.0" r="5"/>
<circle cx="580.0" cy="876.0" r="5"/>
<circle cx="574.0" cy="883.5" r="5"/>
<circle cx="564.0" cy="889.0" r="5"/>
<circle cx="563.0" cy="893.0" r="5"/>
<circle cx="561.0" cy="897.0" r="5"/>
<circle cx="549.5" cy="885.5" r="5"/>
<circle cx="589.0" cy="889.0" r="5"/>
<circle cx="594.0" cy="889.0" r="5"/>
<circle cx="661.0" cy="884.5" r="5"/>
<circle cx="672.0" cy="884.5" r="5"/>
<circle cx="776.0" cy="816.0" r="5"/>
<circle cx="791.0" cy="816.0" r="5"/>
<circle cx="803.0" cy="816.0" r="5"/>
<circle cx="797.0" cy="820.0" r="5"/>
<circle cx="766.0" cy="826.0" r="5"/>
<circle cx="769.5" cy="827.5" r="5"/>
<circle cx="779.0" cy="828.5" r="5"/>
<circle cx="786.0" cy="827.0" r="5"/>
<circle cx="797.0" cy="827.0" r="5"/>
<circle cx="803.0" cy="828.5" r="5"/>
<circle cx="799.5" cy="831.5" r="5"/>
<circle cx="757.0" cy="820.0" r="5"/>
<circle cx="756.5" cy="835.0" r="5"/>
<circle cx="756.0" cy="841.0" r="5"/>
<circle cx="771.0" cy="843.0" r="5"/>
<circle cx="541.0" cy="745.0" r="5"/>
<circle cx="529.0" cy="750.0" r="5"/>
<circle cx="525.0" cy="755.0" r="5"/>
<circle cx="539.0" cy="756.0" r="5"/>
<circle cx="505.0" cy="742.0" r="5"/>
<circle cx="505.0" cy="730.0" r="5"/>
<circle cx="425.0" cy="804.0" r="5"/>
<circle cx="440.0" cy="805.0" r="5"/>
<circle cx="431.0" cy="798.0" r="5"/>
<circle cx="443.0" cy="800.0" r="5"/>
<circle cx="534.0" cy="722.0" r="5"/>
<circle cx="530.0" cy="764.0" r="5"/>
<circle cx="538.0" cy="769.0" r="5"/>
<circle cx="505.0" cy="722.0" r="5"/>
<circle cx="501.0" cy="730.0" r="5"/>
<circle cx="531.0" cy="783.0" r="5"/>
<circle cx="525.0" cy="789.0" r="5"/>
<circle cx="518.0" cy="794.0" r="5"/>
<circle cx="540.0" cy="793.0" r="5"/>
<circle cx="568.0" cy="662.5" r="5"/>
<circle cx="579.0" cy="663.0" r="5"/>
<circle cx="699.0" cy="783.0" r="5"/>
<circle cx="715.0" cy="783.0" r="5"/>
<circle cx="585.0" cy="793.0" r="5"/>
<circle cx="593.0" cy="795.0" r="5"/>
<circle cx="597.0" cy="792.0" r="5"/>
<circle cx="585.0" cy="801.0" r="5"/>
<circle cx="601.0" cy="803.0" r="5"/>
<circle cx="663.0" cy="791.0" r="5"/>
<circle cx="676.0" cy="800.0" r="5"/>
<circle cx="635.0" cy="802.0" r="5"/>
<circle cx="654.0" cy="810.0" r="5"/>
<circle cx="701.0" cy="805.0" r="5"/>
<circle cx="715.0" cy="806.0" r="5"/>
<circle cx="724.0" cy="804.0" r="5"/>
<circle cx="730.0" cy="808.0" r="5"/>
<circle cx="355.0" cy="910.0" r="5"/>
<circle cx="364.0" cy="906.0" r="5"/>
<circle cx="372.0" cy="908.0" r="5"/>
<circle cx="373.0" cy="916.0" r="5"/>
<circle cx="362.0" cy="928.0" r="5"/>
<circle cx="370.0" cy="926.0" r="5"/>
<circle cx="382.0" cy="919.0" r="5"/>
<circle cx="413.0" cy="879.0" r="5"/>
<circle cx="430.0" cy="890.0" r="5"/>
<circle cx="411.0" cy="890.0" r="5"/>
<circle cx="403.0" cy="886.0" r="5"/>
<circle cx="429.0" cy="870.0" r="5"/>
<circle cx="387.0" cy="863.0" r="5"/>
<circle cx="394.0" cy="879.0" r="5"/>
<circle cx="383.0" cy="871.0" r="5"/>
<circle cx="403.0" cy="879.0" r="5"/>
<circle cx="485.0" cy="816.0" r="5"/>
<circle cx="503.0" cy="819.0" r="5"/>
<circle cx="513.0" cy="827.0" r="5"/>
<circle cx="525.0" cy="814.0" r="5"/>
<circle cx="528.0" cy="823.0" r="5"/>
<circle cx="445.0" cy="835.0" r="5"/>
<circle cx="458.0" cy="830.0" r="5"/>
<circle cx="450.0" cy="840.0" r="5"/>
<circle cx="449.0" cy="853.0" r="5"/>
<circle cx="441.0" cy="848.0" r="5"/>
<circle cx="413.0" cy="836.0" r="5"/>
<circle cx="415.0" cy="841.0" r="5"/>
<circle cx="403.0" cy="835.0" r="5"/>
<circle cx="422.0" cy="940.0" r="5"/>
<circle cx="429.0" cy="939.0" r="5"/>
<circle cx="447.0" cy="942.0" r="5"/>
<circle cx="455.0" cy="936.0" r="5"/>
<circle cx="465.0" cy="928.0" r="5"/>
<circle cx="435.0" cy="939.0" r="5"/>
<circle cx="445.0" cy="953.0" r="5"/>
<circle cx="436.0" cy="954.0" r="5"/>
<circle cx="465.0" cy="935.0" r="5"/>
<circle cx="483.0" cy="854.0" r="5"/>
<circle cx="491.0" cy="862.0" r="5"/>
<circle cx="499.0" cy="860.0" r="5"/>
<circle cx="470.0" cy="858.0" r="5"/>
<circle cx="537.0" cy="875.0" r="5"/>
<circle cx="531.0" cy="870.0" r="5"/>
<circle cx="539.0" cy="880.0" r="5"/>
<circle cx="541.0" cy="843.0" r="5"/>
<circle cx="538.0" cy="849.0" r="5"/>
<circle cx="543.0" cy="835.0" r="5"/>
<circle cx="593.0" cy="816.0" r="5"/>
<circle cx="589.0" cy="821.0" r="5"/>
<circle cx="609.0" cy="822.0" r="5"/>
<circle cx="621.0" cy="821.0" r="5"/>
<circle cx="631.0" cy="812.0" r="5"/>
<circle cx="639.0" cy="820.0" r="5"/>
<circle cx="645.0" cy="816.0" r="5"/>
<circle cx="597.0" cy="813.0" r="5"/>
<circle cx="763.5" cy="673.0" r="5"/>
<circle cx="771.0" cy="679.2" r="5"/>
<circle cx="761.0" cy="679.2" r="5"/>
<circle cx="769.7" cy="685.4" r="5"/>
<circle cx="777.1" cy="685.4" r="5"/>
<circle cx="794.5" cy="685.4" r="5"/>
<circle cx="798.2" cy="689.1" r="5"/>
<circle cx="792.0" cy="691.6" r="5"/>
<circle cx="768.5" cy="671.8" r="5"/>
<circle cx="780.9" cy="679.2" r="5"/>
<circle cx="920.8" cy="637.1" r="5"/>
<circle cx="924.5" cy="652.0" r="5"/>
<circle cx="918.3" cy="666.9" r="5"/>
<circle cx="925.7" cy="675.5" r="5"/>
<circle cx="943.0" cy="685.4" r="5"/>
<circle cx="945.5" cy="691.6" r="5"/>
<circle cx="953.0" cy="654.5" r="5"/>
<circle cx="975.2" cy="669.3" r="5"/>
<circle cx="977.7" cy="675.5" r="5"/>
<circle cx="972.8" cy="694.1" r="5"/>
<circle cx="966.6" cy="686.7" r="5"/>
<circle cx="483.0" cy="368.0" r="5"/>
<circle cx="491.0" cy="360.0" r="5"/>
<circle cx="495.0" cy="372.0" r="5"/>
<circle cx="537.0" cy="360.0" r="5"/>
<circle cx="547.0" cy="354.0" r="5"/>
<circle cx="559.0" cy="362.0" r="5"/>
<circle cx="573.0" cy="364.0" r="5"/>
<circle cx="581.0" cy="358.0" r="5"/>
<circle cx="625.0" cy="406.0" r="5"/>
<circle cx="635.0" cy="402.0" r="5"/>
<circle cx="647.0" cy="396.0" r="5"/>
<circle cx="659.0" cy="406.0" r="5"/>
<circle cx="675.0" cy="406.0" r="5"/>
<circle cx="687.0" cy="414.0" r="5"/>
<circle cx="701.0" cy="410.0" r="5"/>
<circle cx="711.0" cy="396.0" r="5"/>
<circle cx="705.0" cy="424.0" r="5"/>
<circle cx="715.0" cy="422.0" r="5"/>
<circle cx="739.0" cy="414.0" r="5"/>
<circle cx="747.0" cy="420.0" r="5"/>
<circle cx="647.0" cy="434.0" r="5"/>
<circle cx="655.0" cy="430.0" r="5"/>
<circle cx="639.0" cy="438.0" r="5"/>
<circle cx="663.0" cy="424.0" r="5"/>
<circle cx="685.0" cy="426.0" r="5"/>
<circle cx="615.0" cy="426.0" r="5"/>
<circle cx="621.0" cy="438.0" r="5"/>
<circle cx="603.0" cy="442.0" r="5"/>
<circle cx="595.0" cy="438.0" r="5"/>
<circle cx="745.0" cy="438.0" r="5"/>
<circle cx="751.0" cy="450.0" r="5"/>
<circle cx="725.0" cy="470.0" r="5"/>
<circle cx="721.0" cy="482.0" r="5"/>
<circle cx="735.0" cy="490.0" r="5"/>
<circle cx="711.0" cy="460.0" r="5"/>
<circle cx="625.0" cy="476.0" r="5"/>
<circle cx="615.0" cy="482.0" r="5"/>
<circle cx="629.0" cy="488.0" r="5"/>
<circle cx="581.0" cy="454.0" r="5"/>
<circle cx="581.0" cy="466.0" r="5"/>
<circle cx="571.0" cy="460.0" r="5"/>
<circle cx="553.0" cy="482.0" r="5"/>
<circle cx="547.0" cy="488.0" r="5"/>
<circle cx="563.0" cy="490.0" r="5"/>
<circle cx="733.0" cy="338.0" r="5"/>
<circle cx="745.0" cy="348.0" r="5"/>
<circle cx="675.0" cy="342.0" r="5"/>
<circle cx="663.0" cy="350.0" r="5"/>
<circle cx="687.0" cy="356.0" r="5"/>
<circle cx="625.0" cy="342.0" r="5"/>
<circle cx="615.0" cy="352.0" r="5"/>
<circle cx="826.3" cy="388.9" r="5"/>
<circle cx="838.6" cy="390.5" r="5"/>
<circle cx="841.7" cy="401.2" r="5"/>
<circle cx="834.0" cy="407.3" r="5"/>
<circle cx="823.3" cy="398.1" r="5"/>
<circle cx="864.7" cy="411.2" r="5"/>
<circle cx="686.8" cy="407.3" r="5"/>
<circle cx="694.5" cy="416.5" r="5"/>
<circle cx="685.3" cy="422.7" r="5"/>
<circle cx="691.4" cy="430.3" r="5"/>
<circle cx="696.0" cy="407.3" r="5"/>
<circle cx="926.0" cy="431.9" r="5"/>
<circle cx="921.4" cy="438.0" r="5"/>
<circle cx="846.3" cy="431.9" r="5"/>
<circle cx="1171.6" cy="804.8" r="5"/>
<circle cx="1186.0" cy="811.2" r="5"/>
<circle cx="1189.2" cy="809.6" r="5"/>
<circle cx="1194.0" cy="815.2" r="5"/>
<circle cx="1189.2" cy="820.8" r="5"/>
<circle cx="1184.4" cy="825.6" r="5"/>
<circle cx="1174.8" cy="830.4" r="5"/>
<circle cx="1171.6" cy="836.8" r="5"/>
<circle cx="1179.6" cy="838.4" r="5"/>
<circle cx="1181.2" cy="844.8" r="5"/>
<circle cx="1174.8" cy="838.4" r="5"/>
<circle cx="1218.0" cy="811.2" r="5"/>
<circle cx="1222.8" cy="808.0" r="5"/>
<circle cx="1219.6" cy="816.0" r="5"/>
<circle cx="1224.4" cy="804.8" r="5"/>
<circle cx="1210.0" cy="790.4" r="5"/>
<circle cx="1168.4" cy="801.6" r="5"/>
<circle cx="1080.3" cy="913.9" r="5"/>
<circle cx="1076.1" cy="909.7" r="5"/>
<circle cx="1061.4" cy="922.3" r="5"/>
<circle cx="1208.1" cy="911.8" r="5"/>
<circle cx="1216.5" cy="912.9" r="5"/>
<circle cx="1201.8" cy="906.6" r="5"/>
<circle cx="359.6" cy="1211.7" r="5"/>
<circle cx="357.0" cy="1208.0" r="5"/>
</g>
<g fill="#982d80">
<circle cx="361.0" cy="1156.0" r="5"/>
<circle cx="368.0" cy="1161.2" r="5"/>
<circle cx="359.2" cy="1165.2" r="5"/>
<circle cx="372.0" cy="1173.4" r="5"/>
<circle cx="360.2" cy="1178.8" r="5"/>
<circle cx="361.8" cy="1200.8" r="5"/>
<circle cx="366.0" cy="1206.0" r="5"/>
<circle cx="355.2" cy="1218.0" r="5"/>
<circle cx="1206.0" cy="760.8" r="5"/>
<circle cx="1196.0" cy="790.1" r="5"/>
<circle cx="1173.0" cy="798.2" r="5"/>
<circle cx="1180.3" cy="796.7" r="5"/>
<circle cx="1216.6" cy="805.8" r="5"/>
<circle cx="1203.8" cy="814.8" r="5"/>
<circle cx="1215.5" cy="820.6" r="5"/>
<circle cx="1162.7" cy="818.0" r="5"/>
<circle cx="1175.2" cy="823.9" r="5"/>
<circle cx="1140.7" cy="812.9" r="5"/>
<circle cx="1145.9" cy="811.4" r="5"/>
<circle cx="1137.8" cy="818.7" r="5"/>
<circle cx="1150.3" cy="818.0" r="5"/>
<circle cx="1145.1" cy="823.9" r="5"/>
<circle cx="1172.6" cy="844.8" r="5"/>
<circle cx="1163.5" cy="855.4" r="5"/>
<circle cx="1184.3" cy="881.1" r="5"/>
<circle cx="1075.2" cy="896.5" r="5"/>
<circle cx="1101.1" cy="904.5" r="5"/>
<circle cx="1082.8" cy="911.9" r="5"/>
<circle cx="1076.9" cy="916.3" r="5"/>
<circle cx="1067.4" cy="919.2" r="5"/>
<circle cx="1206.0" cy="905.3" r="5"/>
<circle cx="1214.1" cy="902.3" r="5"/>
<circle cx="1220.7" cy="907.5" r="5"/>
<circle cx="1226.5" cy="912.6" r="5"/>
<circle cx="738.0" cy="227.0" r="5"/>
<circle cx="715.0" cy="234.0" r="5"/>
<circle cx="699.0" cy="244.0" r="5"/>
<circle cx="703.0" cy="247.5" r="5"/>
<circle cx="688.5" cy="257.0" r="5"/>
<circle cx="679.0" cy="264.0" r="5"/>
<circle cx="667.5" cy="267.0" r="5"/>
<circle cx="640.5" cy="266.0" r="5"/>
<circle cx="739.0" cy="273.0" r="5"/>
<circle cx="685.5" cy="283.0" r="5"/>
<circle cx="695.8" cy="284.5" r="5"/>
<circle cx="676.0" cy="295.5" r="5"/>
<circle cx="640.0" cy="300.5" r="5"/>
<circle cx="617.5" cy="285.0" r="5"/>
<circle cx="589.0" cy="291.5" r="5"/>
<circle cx="647.0" cy="323.0" r="5"/>
<circle cx="630.0" cy="329.0" r="5"/>
<circle cx="622.0" cy="331.0" r="5"/>
<circle cx="616.5" cy="332.5" r="5"/>
<circle cx="626.5" cy="336.0" r="5"/>
<circle cx="634.5" cy="343.0" r="5"/>
<circle cx="655.0" cy="335.0" r="5"/>
<circle cx="561.0" cy="328.5" r="5"/>
<circle cx="697.5" cy="340.0" r="5"/>
<circle cx="718.0" cy="344.0" r="5"/>
<circle cx="737.0" cy="341.0" r="5"/>
<circle cx="749.5" cy="354.0" r="5"/>
<circle cx="730.5" cy="359.0" r="5"/>
<circle cx="588.0" cy="354.0" r="5"/>
<circle cx="781.5" cy="287.8" r="5"/>
<circle cx="771.5" cy="296.2" r="5"/>
<circle cx="833.3" cy="334.3" r="5"/>
<circle cx="841.0" cy="342.0" r="5"/>
<circle cx="865.0" cy="346.5" r="5"/>
<circle cx="775.5" cy="346.0" r="5"/>
<circle cx="775.5" cy="350.0" r="5"/>
<circle cx="789.0" cy="355.0" r="5"/>
<circle cx="765.0" cy="360.0" r="5"/>
<circle cx="890.0" cy="358.0" r="5"/>
<circle cx="537.2" cy="300.0" r="5"/>
<circle cx="495.0" cy="339.0" r="5"/>
<circle cx="486.0" cy="349.0" r="5"/>
<circle cx="541.5" cy="327.5" r="5"/>
<circle cx="504.0" cy="360.0" r="5"/>
<circle cx="430.0" cy="377.5" r="5"/>
<circle cx="407.0" cy="390.0" r="5"/>
<circle cx="411.0" cy="395.0" r="5"/>
<circle cx="405.5" cy="407.5" r="5"/>
<circle cx="406.0" cy="413.0" r="5"/>
<circle cx="429.0" cy="406.2" r="5"/>
<circle cx="466.5" cy="381.0" r="5"/>
<circle cx="462.5" cy="388.5" r="5"/>
<circle cx="464.8" cy="405.5" r="5"/>
<circle cx="465.5" cy="411.5" r="5"/>
<circle cx="454.5" cy="424.5" r="5"/>
<circle cx="441.8" cy="440.3" r="5"/>
<circle cx="427.0" cy="445.0" r="5"/>
<circle cx="503.5" cy="366.0" r="5"/>
<circle cx="513.0" cy="367.0" r="5"/>
<circle cx="514.5" cy="373.5" r="5"/>
<circle cx="503.8" cy="383.8" r="5"/>
<circle cx="517.0" cy="395.7" r="5"/>
<circle cx="502.5" cy="406.8" r="5"/>
<circle cx="528.0" cy="418.0" r="5"/>
<circle cx="493.0" cy="426.0" r="5"/>
<circle cx="519.2" cy="428.8" r="5"/>
<circle cx="542.0" cy="378.0" r="5"/>
<circle cx="543.0" cy="385.0" r="5"/>
<circle cx="425.0" cy="465.5" r="5"/>
<circle cx="428.0" cy="474.0" r="5"/>
<circle cx="525.5" cy="464.0" r="5"/>
<circle cx="502.5" cy="472.0" r="5"/>
<circle cx="404.0" cy="498.0" r="5"/>
<circle cx="411.0" cy="509.0" r="5"/>
<circle cx="525.0" cy="497.0" r="5"/>
<circle cx="495.0" cy="508.0" r="5"/>
<circle cx="537.0" cy="510.0" r="5"/>
<circle cx="549.0" cy="380.0" r="5"/>
<circle cx="553.0" cy="397.0" r="5"/>
<circle cx="567.0" cy="396.5" r="5"/>
<circle cx="600.5" cy="373.0" r="5"/>
<circle cx="610.0" cy="402.0" r="5"/>
<circle cx="660.0" cy="379.0" r="5"/>
<circle cx="660.0" cy="391.0" r="5"/>
<circle cx="644.0" cy="411.5" r="5"/>
<circle cx="702.0" cy="372.5" r="5"/>
<circle cx="696.0" cy="382.0" r="5"/>
<circle cx="753.0" cy="372.0" r="5"/>
<circle cx="754.0" cy="381.0" r="5"/>
<circle cx="568.0" cy="428.0" r="5"/>
<circle cx="572.0" cy="433.0" r="5"/>
<circle cx="624.5" cy="431.0" r="5"/>
<circle cx="609.0" cy="446.0" r="5"/>
<circle cx="615.0" cy="444.5" r="5"/>
<circle cx="592.0" cy="455.0" r="5"/>
<circle cx="642.5" cy="447.0" r="5"/>
<circle cx="639.5" cy="457.5" r="5"/>
<circle cx="672.0" cy="429.0" r="5"/>
<circle cx="678.5" cy="438.5" r="5"/>
<circle cx="686.0" cy="445.0" r="5"/>
<circle cx="699.0" cy="439.0" r="5"/>
<circle cx="729.0" cy="440.5" r="5"/>
<circle cx="722.0" cy="446.0" r="5"/>
<circle cx="727.0" cy="453.0" r="5"/>
<circle cx="733.0" cy="456.0" r="5"/>
<circle cx="744.0" cy="463.0" r="5"/>
<circle cx="748.0" cy="469.0" r="5"/>
<circle cx="714.0" cy="469.0" r="5"/>
<circle cx="707.0" cy="478.5" r="5"/>
<circle cx="578.0" cy="473.5" r="5"/>
<circle cx="585.0" cy="485.0" r="5"/>
<circle cx="594.0" cy="486.5" r="5"/>
<circle cx="643.0" cy="486.5" r="5"/>
<circle cx="666.0" cy="493.0" r="5"/>
<circle cx="652.5" cy="501.0" r="5"/>
<circle cx="621.0" cy="499.0" r="5"/>
<circle cx="549.0" cy="493.0" r="5"/>
<circle cx="551.0" cy="504.0" r="5"/>
<circle cx="718.0" cy="503.0" r="5"/>
<circle cx="707.0" cy="510.0" r="5"/>
<circle cx="638.0" cy="511.0" r="5"/>
<circle cx="795.0" cy="377.5" r="5"/>
<circle cx="832.0" cy="364.0" r="5"/>
<circle cx="832.5" cy="397.5" r="5"/>
<circle cx="815.5" cy="403.5" r="5"/>
<circle cx="892.5" cy="363.5" r="5"/>
<circle cx="881.5" cy="380.0" r="5"/>
<circle cx="875.0" cy="414.0" r="5"/>
<circle cx="924.0" cy="404.0" r="5"/>
<circle cx="931.0" cy="420.0" r="5"/>
<circle cx="911.0" cy="425.5" r="5"/>
<circle cx="855.5" cy="427.0" r="5"/>
<circle cx="863.0" cy="442.5" r="5"/>
<circle cx="800.0" cy="437.0" r="5"/>
<circle cx="828.0" cy="439.0" r="5"/>
<circle cx="790.5" cy="456.5" r="5"/>
<circle cx="917.5" cy="454.5" r="5"/>
<circle cx="907.5" cy="469.5" r="5"/>
<circle cx="469.0" cy="516.0" r="5"/>
<circle cx="495.5" cy="516.5" r="5"/>
<circle cx="510.0" cy="517.5" r="5"/>
<circle cx="524.0" cy="513.0" r="5"/>
<circle cx="543.0" cy="526.5" r="5"/>
<circle cx="541.0" cy="542.0" r="5"/>
<circle cx="533.0" cy="554.5" r="5"/>
<circle cx="512.0" cy="559.0" r="5"/>
<circle cx="516.0" cy="564.5" r="5"/>
<circle cx="499.5" cy="585.0" r="5"/>
<circle cx="425.0" cy="632.0" r="5"/>
<circle cx="446.5" cy="641.5" r="5"/>
<circle cx="435.0" cy="647.5" r="5"/>
<circle cx="439.5" cy="653.0" r="5"/>
<circle cx="545.0" cy="570.0" r="5"/>
<circle cx="597.0" cy="526.5" r="5"/>
<circle cx="620.0" cy="518.5" r="5"/>
<circle cx="636.5" cy="521.0" r="5"/>
<circle cx="657.5" cy="518.0" r="5"/>
<circle cx="672.0" cy="527.5" r="5"/>
<circle cx="689.5" cy="533.0" r="5"/>
<circle cx="746.5" cy="524.0" r="5"/>
<circle cx="626.0" cy="538.0" r="5"/>
<circle cx="582.0" cy="543.0" r="5"/>
<circle cx="591.0" cy="545.5" r="5"/>
<circle cx="580.0" cy="558.5" r="5"/>
<circle cx="572.0" cy="579.0" r="5"/>
<circle cx="579.0" cy="580.5" r="5"/>
<circle cx="614.5" cy="573.5" r="5"/>
<circle cx="616.0" cy="582.5" r="5"/>
<circle cx="662.8" cy="587.8" r="5"/>
<circle cx="602.0" cy="607.5" r="5"/>
<circle cx="707.0" cy="639.0" r="5"/>
<circle cx="685.0" cy="647.0" r="5"/>
<circle cx="696.5" cy="647.0" r="5"/>
<circle cx="601.0" cy="655.0" r="5"/>
<circle cx="664.5" cy="659.0" r="5"/>
<circle cx="711.0" cy="660.0" r="5"/>
<circle cx="724.0" cy="660.0" r="5"/>
<circle cx="405.0" cy="667.0" r="5"/>
<circle cx="439.5" cy="664.5" r="5"/>
<circle cx="480.5" cy="666.0" r="5"/>
<circle cx="452.0" cy="676.0" r="5"/>
<circle cx="450.0" cy="681.5" r="5"/>
<circle cx="460.0" cy="681.0" r="5"/>
<circle cx="389.0" cy="686.5" r="5"/>
<circle cx="381.0" cy="692.0" r="5"/>
<circle cx="470.0" cy="688.0" r="5"/>
<circle cx="458.0" cy="695.0" r="5"/>
<circle cx="500.0" cy="681.0" r="5"/>
<circle cx="499.0" cy="690.0" r="5"/>
<circle cx="519.5" cy="684.5" r="5"/>
<circle cx="429.0" cy="701.0" r="5"/>
<circle cx="471.0" cy="703.5" r="5"/>
<circle cx="505.0" cy="703.0" r="5"/>
<circle cx="490.5" cy="710.0" r="5"/>
<circle cx="525.0" cy="707.0" r="5"/>
<circle cx="541.0" cy="706.0" r="5"/>
<circle cx="544.0" cy="714.0" r="5"/>
<circle cx="420.0" cy="712.0" r="5"/>
<circle cx="384.5" cy="719.0" r="5"/>
<circle cx="363.5" cy="725.0" r="5"/>
<circle cx="390.0" cy="732.0" r="5"/>
<circle cx="449.0" cy="728.0" r="5"/>
<circle cx="443.0" cy="732.0" r="5"/>
<circle cx="438.5" cy="736.0" r="5"/>
<circle cx="456.0" cy="737.0" r="5"/>
<circle cx="479.5" cy="726.5" r="5"/>
<circle cx="493.0" cy="737.0" r="5"/>
<circle cx="508.0" cy="736.5" r="5"/>
<circle cx="528.0" cy="722.0" r="5"/>
<circle cx="359.0" cy="749.0" r="5"/>
<circle cx="361.0" cy="756.0" r="5"/>
<circle cx="381.0" cy="761.0" r="5"/>
<circle cx="452.0" cy="748.0" r="5"/>
<circle cx="445.0" cy="751.0" r="5"/>
<circle cx="494.0" cy="749.0" r="5"/>
<circle cx="483.0" cy="753.0" r="5"/>
<circle cx="498.5" cy="760.0" r="5"/>
<circle cx="514.0" cy="766.0" r="5"/>
<circle cx="537.0" cy="747.0" r="5"/>
<circle cx="533.0" cy="754.0" r="5"/>
<circle cx="421.5" cy="764.0" r="5"/>
<circle cx="436.0" cy="769.0" r="5"/>
<circle cx="473.0" cy="774.0" r="5"/>
<circle cx="358.5" cy="774.0" r="5"/>
<circle cx="359.5" cy="783.0" r="5"/>
<circle cx="402.0" cy="777.0" r="5"/>
<circle cx="399.0" cy="787.0" r="5"/>
<circle cx="420.5" cy="782.0" r="5"/>
<circle cx="432.0" cy="793.5" r="5"/>
<circle cx="418.0" cy="800.0" r="5"/>
<circle cx="526.5" cy="795.0" r="5"/>
<circle cx="504.0" cy="805.0" r="5"/>
<circle cx="472.0" cy="808.0" r="5"/>
<circle cx="409.0" cy="811.0" r="5"/>
<circle cx="605.0" cy="669.5" r="5"/>
<circle cx="577.5" cy="675.0" r="5"/>
<circle cx="627.0" cy="664.0" r="5"/>
<circle cx="621.0" cy="670.0" r="5"/>
<circle cx="635.5" cy="679.5" r="5"/>
<circle cx="680.5" cy="674.5" r="5"/>
<circle cx="614.0" cy="701.0" r="5"/>
<circle cx="641.5" cy="699.0" r="5"/>
<circle cx="613.5" cy="724.0" r="5"/>
<circle cx="547.0" cy="688.0" r="5"/>
<circle cx="560.0" cy="732.0" r="5"/>
<circle cx="551.0" cy="737.0" r="5"/>
<circle cx="583.5" cy="741.0" r="5"/>
<circle cx="615.5" cy="739.5" r="5"/>
<circle cx="549.0" cy="757.0" r="5"/>
<circle cx="586.0" cy="760.5" r="5"/>
<circle cx="605.0" cy="754.5" r="5"/>
<circle cx="615.0" cy="760.0" r="5"/>
<circle cx="611.0" cy="765.0" r="5"/>
<circle cx="601.0" cy="768.5" r="5"/>
<circle cx="621.0" cy="777.0" r="5"/>
<circle cx="632.0" cy="776.5" r="5"/>
<circle cx="637.0" cy="780.0" r="5"/>
<circle cx="598.0" cy="786.0" r="5"/>
<circle cx="600.0" cy="789.0" r="5"/>
<circle cx="675.0" cy="774.0" r="5"/>
<circle cx="666.0" cy="779.0" r="5"/>
<circle cx="665.0" cy="785.0" r="5"/>
<circle cx="714.0" cy="773.0" r="5"/>
<circle cx="718.0" cy="777.0" r="5"/>
<circle cx="679.5" cy="795.0" r="5"/>
<circle cx="683.0" cy="800.0" r="5"/>
<circle cx="653.0" cy="797.0" r="5"/>
<circle cx="639.5" cy="799.0" r="5"/>
<circle cx="712.5" cy="799.0" r="5"/>
<circle cx="667.5" cy="805.0" r="5"/>
<circle cx="594.0" cy="805.0" r="5"/>
<circle cx="738.0" cy="811.0" r="5"/>
<circle cx="777.2" cy="673.2" r="5"/>
<circle cx="789.5" cy="679.5" r="5"/>
<circle cx="785.0" cy="685.5" r="5"/>
<circle cx="777.2" cy="790.0" r="5"/>
<circle cx="798.0" cy="804.0" r="5"/>
<circle cx="394.7" cy="829.0" r="5"/>
<circle cx="380.0" cy="835.0" r="5"/>
<circle cx="405.5" cy="840.0" r="5"/>
<circle cx="473.0" cy="830.0" r="5"/>
<circle cx="527.5" cy="834.0" r="5"/>
<circle cx="515.0" cy="838.0" r="5"/>
<circle cx="525.0" cy="843.0" r="5"/>
<circle cx="492.0" cy="846.0" r="5"/>
<circle cx="452.5" cy="846.0" r="5"/>
<circle cx="544.0" cy="855.5" r="5"/>
<circle cx="369.5" cy="860.8" r="5"/>
<circle cx="386.0" cy="859.0" r="5"/>
<circle cx="418.8" cy="858.0" r="5"/>
<circle cx="432.5" cy="866.0" r="5"/>
<circle cx="466.0" cy="864.0" r="5"/>
<circle cx="395.0" cy="870.0" r="5"/>
<circle cx="408.0" cy="871.0" r="5"/>
<circle cx="399.0" cy="875.0" r="5"/>
<circle cx="376.5" cy="902.5" r="5"/>
<circle cx="427.2" cy="901.5" r="5"/>
<circle cx="440.0" cy="914.0" r="5"/>
<circle cx="551.0" cy="823.5" r="5"/>
<circle cx="575.5" cy="835.5" r="5"/>
<circle cx="640.0" cy="837.5" r="5"/>
<circle cx="664.0" cy="831.5" r="5"/>
<circle cx="745.0" cy="836.5" r="5"/>
<circle cx="752.5" cy="821.0" r="5"/>
<circle cx="604.0" cy="852.0" r="5"/>
<circle cx="631.5" cy="850.8" r="5"/>
<circle cx="642.0" cy="855.5" r="5"/>
<circle cx="691.2" cy="854.0" r="5"/>
<circle cx="724.5" cy="849.5" r="5"/>
<circle cx="727.5" cy="860.0" r="5"/>
<circle cx="600.0" cy="867.0" r="5"/>
<circle cx="579.5" cy="870.8" r="5"/>
<circle cx="635.5" cy="870.8" r="5"/>
<circle cx="628.3" cy="882.5" r="5"/>
<circle cx="643.5" cy="882.8" r="5"/>
<circle cx="581.7" cy="886.5" r="5"/>
<circle cx="778.7" cy="835.0" r="5"/>
<circle cx="1144.8" cy="817.2" r="5"/>
<circle cx="1210.2" cy="904.5" r="5"/>
<circle cx="1218.6" cy="906.6" r="5"/>
</g>
<g fill="#f4675c">
<circle cx="362.8" cy="1144.8" r="5"/>
<circle cx="376.2" cy="1200.4" r="5"/>
<circle cx="356.0" cy="1205.4" r="5"/>
<circle cx="985.7" cy="681.0" r="5"/>
<circle cx="1174.5" cy="815.8" r="5"/>
<circle cx="1089.4" cy="906.0" r="5"/>
<circle cx="708.0" cy="238.0" r="5"/>
<circle cx="665.0" cy="279.0" r="5"/>
<circle cx="581.0" cy="292.0" r="5"/>
<circle cx="546.5" cy="300.0" r="5"/>
<circle cx="598.0" cy="310.5" r="5"/>
<circle cx="577.5" cy="352.5" r="5"/>
<circle cx="797.0" cy="357.0" r="5"/>
<circle cx="492.0" cy="402.2" r="5"/>
<circle cx="481.8" cy="436.0" r="5"/>
<circle cx="545.0" cy="397.0" r="5"/>
<circle cx="396.0" cy="511.0" r="5"/>
<circle cx="620.0" cy="397.0" r="5"/>
<circle cx="728.5" cy="448.5" r="5"/>
<circle cx="918.0" cy="402.5" r="5"/>
<circle cx="812.0" cy="484.0" r="5"/>
<circle cx="840.0" cy="497.0" r="5"/>
<circle cx="483.5" cy="529.0" r="5"/>
<circle cx="416.5" cy="654.0" r="5"/>
<circle cx="615.0" cy="549.0" r="5"/>
<circle cx="605.0" cy="577.0" r="5"/>
<circle cx="400.0" cy="678.5" r="5"/>
<circle cx="381.0" cy="694.5" r="5"/>
<circle cx="377.0" cy="707.0" r="5"/>
<circle cx="417.0" cy="720.0" r="5"/>
<circle cx="397.8" cy="735.5" r="5"/>
<circle cx="416.0" cy="743.5" r="5"/>
<circle cx="418.0" cy="756.0" r="5"/>
<circle cx="478.0" cy="700.0" r="5"/>
<circle cx="508.5" cy="763.5" r="5"/>
<circle cx="488.0" cy="797.8" r="5"/>
<circle cx="620.7" cy="759.0" r="5"/>
<circle cx="668.0" cy="774.0" r="5"/>
<circle cx="624.8" cy="785.5" r="5"/>
<circle cx="685.5" cy="791.5" r="5"/>
<circle cx="625.8" cy="800.5" r="5"/>
<circle cx="405.5" cy="855.2" r="5"/>
<circle cx="503.8" cy="851.8" r="5"/>
<circle cx="538.0" cy="864.0" r="5"/>
<circle cx="378.2" cy="874.5" r="5"/>
<circle cx="382.2" cy="890.5" r="5"/>
<circle cx="405.0" cy="907.5" r="5"/>
<circle cx="415.0" cy="910.0" r="5"/>
<circle cx="717.0" cy="823.8" r="5"/>
</g>
<g fill="#feb77e">
<circle cx="1181.8" cy="820.2" r="5"/>
<circle cx="553.0" cy="350.0" r="5"/>
<circle cx="515.8" cy="331.5" r="5"/>
<circle cx="479.0" cy="678.5" r="5"/>
<circle cx="427.0" cy="737.5" r="5"/>
<circle cx="476.5" cy="754.5" r="5"/>
<circle cx="457.5" cy="764.0" r="5"/>
<circle cx="545.0" cy="683.0" r="5"/>
<circle cx="506.0" cy="843.2" r="5"/>
<circle cx="365.0" cy="920.5" r="5"/>
</g>
<g fill="#fcfdbf">
<circle cx="978.2" cy="652.9" r="5"/>
<circle cx="629.8" cy="286.0" r="5"/>
<circle cx="397.2" cy="768.5" r="5"/>
</g>
</g>
<!-- axes -->
<g stroke="#000" stroke-width="4.6" fill="none" stroke-linecap="butt">
<path d="M205.5 142.8V1304.6000000000001"/>
<path d="M203.3 1302.4H1829.2"/>
<path d="M279.30 1302.4v14.6M647.85 1302.4v14.6M1016.40 1302.4v14.6M1384.95 1302.4v14.6M1753.50 1302.4v14.6"/>
<path d="M205.5 372.80h-14.6M205.5 665.15h-14.6M205.5 957.50h-14.6M205.5 1249.85h-14.6"/>
</g>
<text class="tk" text-anchor="start" transform="translate(257.08 1366.30) scale(1 1.005)">-5</text>
<text class="tk" text-anchor="start" transform="translate(633.95 1366.30) scale(1 1.005)">0</text>
<text class="tk" text-anchor="start" transform="translate(1002.50 1366.30) scale(1 1.005)">5</text>
<path transform="translate(1357.15 1366.30) scale(0.05000)" d="M359 0H271V-505H101V-568C196 -580 268 -604 300 -709H359Z" fill="#000"/>
<text class="tk" text-anchor="start" transform="translate(1384.95 1366.30) scale(1 1.005)">0</text>
<path transform="translate(1725.70 1366.30) scale(0.05000)" d="M359 0H271V-505H101V-568C196 -580 268 -604 300 -709H359Z" fill="#000"/>
<text class="tk" text-anchor="start" transform="translate(1753.50 1366.30) scale(1 1.005)">5</text>
<path transform="translate(122.10 391.10) scale(0.05000)" d="M359 0H271V-505H101V-568C196 -580 268 -604 300 -709H359Z" fill="#000"/>
<text class="tk" text-anchor="start" transform="translate(149.90 391.10) scale(1 1.005)">0</text>
<text class="tk" text-anchor="start" transform="translate(149.90 683.45) scale(1 1.005)">5</text>
<text class="tk" text-anchor="start" transform="translate(149.90 975.80) scale(1 1.005)">0</text>
<text class="tk" text-anchor="start" transform="translate(133.25 1268.15) scale(1 1.005)">-5</text>
<text class="ax" text-anchor="start" transform="translate(899.60 1435.00) scale(1 1.090)">UMAP_</text>
<path transform="translate(1100.55 1435.00) scale(0.05833)" d="M359 0H271V-505H101V-568C196 -580 268 -604 300 -709H359Z" fill="#000"/>
<text class="ax" text-anchor="start" transform="translate(95.00 839.70) rotate(-90) scale(1 1.090)">UMAP_2</text>
<text class="ttl" text-anchor="start" transform="translate(868.00 101.00) scale(1 1.060)">CDC37L</text>
<path transform="translate(1127.27 101.00) scale(0.06667)" d="M378 0H238V-493H69V-591C165 -594 252 -622 285 -710H378Z" fill="#000"/>
<!-- legend -->
<rect x="1885.4" y="578.4" width="63.6" height="319.6" fill="url(#mg)"/>
<g stroke="#fff" stroke-width="1.6">
<path d="M1885.4 581.2h12.8M1936.2 581.2h12.8M1885.4 660.2h12.8M1936.2 660.2h12.8M1885.4 739.2h12.8M1936.2 739.2h12.8M1885.4 818.3h12.8M1936.2 818.3h12.8M1885.4 897.2h12.8M1936.2 897.2h12.8"/>
</g>
<path transform="translate(1978.00 599.10) scale(0.05000)" d="M359 0H271V-505H101V-568C196 -580 268 -604 300 -709H359Z" fill="#000"/>
<text class="tk" text-anchor="start" transform="translate(2005.80 599.10) scale(1 1.005)">.6</text>
<path transform="translate(1978.00 678.10) scale(0.05000)" d="M359 0H271V-505H101V-568C196 -580 268 -604 300 -709H359Z" fill="#000"/>
<text class="tk" text-anchor="start" transform="translate(2005.80 678.10) scale(1 1.005)">.2</text>
<text class="tk" text-anchor="start" transform="translate(1978.00 757.10) scale(1 1.005)">0.8</text>
<text class="tk" text-anchor="start" transform="translate(1978.00 836.20) scale(1 1.005)">0.4</text>
<text class="tk" text-anchor="start" transform="translate(1978.00 915.00) scale(1 1.005)">0.0</text>
</svg>
</body></html>
